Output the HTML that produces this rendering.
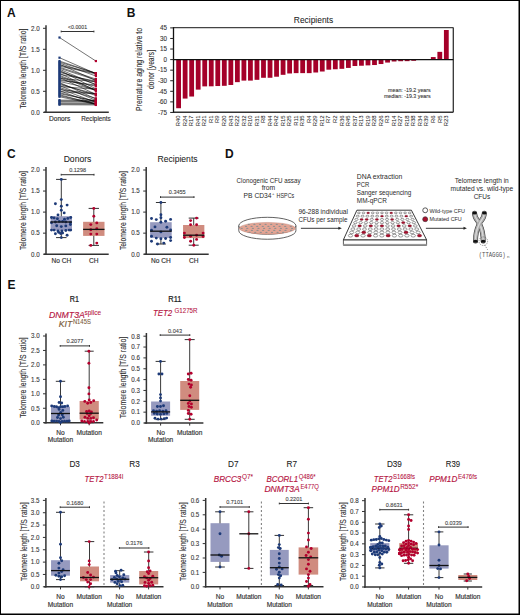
<!DOCTYPE html>
<html><head><meta charset="utf-8"><title>Figure</title>
<style>
html,body{margin:0;padding:0;background:#fff;}
body{width:520px;height:615px;overflow:hidden;}
svg{display:block;font-family:"Liberation Sans", sans-serif;}
</style></head><body>
<svg width="520" height="615" viewBox="0 0 520 615">
<rect x="0" y="0" width="520" height="615" fill="#fff"/>
<text x="7.00" y="16.80" font-size="12" fill="#111" text-anchor="start" font-weight="bold" >A</text>
<line x1="46.00" y1="25.20" x2="46.00" y2="113.00" stroke="#333" stroke-width="1.5" />
<line x1="43.00" y1="112.30" x2="46.00" y2="112.30" stroke="#333" stroke-width="1.0" />
<text x="39.60" y="114.60" font-size="7.4" fill="#333" text-anchor="end" textLength="8.64" lengthAdjust="spacingAndGlyphs" stroke="#444" stroke-width="0.12">0.0</text>
<line x1="43.00" y1="91.30" x2="46.00" y2="91.30" stroke="#333" stroke-width="1.0" />
<text x="39.60" y="93.60" font-size="7.4" fill="#333" text-anchor="end" textLength="8.64" lengthAdjust="spacingAndGlyphs" stroke="#444" stroke-width="0.12">0.5</text>
<line x1="43.00" y1="70.30" x2="46.00" y2="70.30" stroke="#333" stroke-width="1.0" />
<text x="39.60" y="72.60" font-size="7.4" fill="#333" text-anchor="end" textLength="8.64" lengthAdjust="spacingAndGlyphs" stroke="#444" stroke-width="0.12">1.0</text>
<line x1="43.00" y1="49.30" x2="46.00" y2="49.30" stroke="#333" stroke-width="1.0" />
<text x="39.60" y="51.60" font-size="7.4" fill="#333" text-anchor="end" textLength="8.64" lengthAdjust="spacingAndGlyphs" stroke="#444" stroke-width="0.12">1.5</text>
<line x1="43.00" y1="28.30" x2="46.00" y2="28.30" stroke="#333" stroke-width="1.0" />
<text x="39.60" y="30.60" font-size="7.4" fill="#333" text-anchor="end" textLength="8.64" lengthAdjust="spacingAndGlyphs" stroke="#444" stroke-width="0.12">2.0</text>
<text x="25.66" y="68.60" font-size="8.3" fill="#2e2e2e" text-anchor="middle" textLength="80.00" lengthAdjust="spacingAndGlyphs" transform="rotate(-90 25.66 68.60)" stroke="#2e2e2e" stroke-width="0.1">Telomere length [T/S ratio]</text>
<line x1="44.00" y1="112.30" x2="108.80" y2="112.30" stroke="#333" stroke-width="1.5" />
<text x="59.60" y="121.30" font-size="6.6" fill="#333" text-anchor="middle"  stroke="#333" stroke-width="0.16">Donors</text>
<text x="96.00" y="121.30" font-size="6.6" fill="#333" text-anchor="middle" textLength="29.60" lengthAdjust="spacingAndGlyphs"  stroke="#333" stroke-width="0.16">Recipients</text>
<line x1="61.20" y1="31.50" x2="93.90" y2="31.50" stroke="#333" stroke-width="1.0" />
<line x1="61.20" y1="30.60" x2="61.20" y2="32.40" stroke="#333" stroke-width="1.0" />
<line x1="93.90" y1="30.60" x2="93.90" y2="32.40" stroke="#333" stroke-width="1.0" />
<text x="77.55" y="28.90" font-size="4.8" fill="#444" text-anchor="middle" textLength="19.00" lengthAdjust="spacingAndGlyphs"  stroke="#444" stroke-width="0.1">&lt;0.0001</text>
<line x1="59.50" y1="37.54" x2="95.90" y2="61.06" stroke="#000" stroke-width="0.55" />
<line x1="59.50" y1="57.70" x2="95.90" y2="73.66" stroke="#000" stroke-width="0.55" />
<line x1="59.50" y1="61.06" x2="95.90" y2="73.24" stroke="#000" stroke-width="0.55" />
<line x1="59.50" y1="62.08" x2="95.90" y2="73.24" stroke="#000" stroke-width="0.55" />
<line x1="59.50" y1="63.10" x2="95.90" y2="76.01" stroke="#000" stroke-width="0.55" />
<line x1="59.50" y1="64.12" x2="95.90" y2="80.63" stroke="#000" stroke-width="0.55" />
<line x1="59.50" y1="65.14" x2="95.90" y2="73.26" stroke="#000" stroke-width="0.55" />
<line x1="59.50" y1="66.16" x2="95.90" y2="73.91" stroke="#000" stroke-width="0.55" />
<line x1="59.50" y1="67.18" x2="95.90" y2="79.00" stroke="#000" stroke-width="0.55" />
<line x1="59.50" y1="68.20" x2="95.90" y2="79.97" stroke="#000" stroke-width="0.55" />
<line x1="59.50" y1="69.22" x2="95.90" y2="84.68" stroke="#000" stroke-width="0.55" />
<line x1="59.50" y1="70.24" x2="95.90" y2="88.87" stroke="#000" stroke-width="0.55" />
<line x1="59.50" y1="71.26" x2="95.90" y2="84.49" stroke="#000" stroke-width="0.55" />
<line x1="59.50" y1="72.28" x2="95.90" y2="82.29" stroke="#000" stroke-width="0.55" />
<line x1="59.50" y1="73.30" x2="95.90" y2="90.53" stroke="#000" stroke-width="0.55" />
<line x1="59.50" y1="74.32" x2="95.90" y2="81.05" stroke="#000" stroke-width="0.55" />
<line x1="59.50" y1="75.34" x2="95.90" y2="89.94" stroke="#000" stroke-width="0.55" />
<line x1="59.50" y1="76.36" x2="95.90" y2="90.80" stroke="#000" stroke-width="0.55" />
<line x1="59.50" y1="77.38" x2="95.90" y2="94.38" stroke="#000" stroke-width="0.55" />
<line x1="59.50" y1="78.40" x2="95.90" y2="81.61" stroke="#000" stroke-width="0.55" />
<line x1="59.50" y1="79.42" x2="95.90" y2="86.17" stroke="#000" stroke-width="0.55" />
<line x1="59.50" y1="80.44" x2="95.90" y2="85.09" stroke="#000" stroke-width="0.55" />
<line x1="59.50" y1="81.46" x2="95.90" y2="89.66" stroke="#000" stroke-width="0.55" />
<line x1="59.50" y1="82.48" x2="95.90" y2="98.84" stroke="#000" stroke-width="0.55" />
<line x1="59.50" y1="83.50" x2="95.90" y2="95.49" stroke="#000" stroke-width="0.55" />
<line x1="59.50" y1="84.52" x2="95.90" y2="93.95" stroke="#000" stroke-width="0.55" />
<line x1="59.50" y1="85.54" x2="95.90" y2="100.27" stroke="#000" stroke-width="0.55" />
<line x1="59.50" y1="86.56" x2="95.90" y2="89.20" stroke="#000" stroke-width="0.55" />
<line x1="59.50" y1="87.58" x2="95.90" y2="98.40" stroke="#000" stroke-width="0.55" />
<line x1="59.50" y1="88.60" x2="95.90" y2="102.31" stroke="#000" stroke-width="0.55" />
<line x1="59.50" y1="89.62" x2="95.90" y2="93.72" stroke="#000" stroke-width="0.55" />
<line x1="59.50" y1="90.64" x2="95.90" y2="104.32" stroke="#000" stroke-width="0.55" />
<line x1="59.50" y1="91.66" x2="95.90" y2="93.87" stroke="#000" stroke-width="0.55" />
<line x1="59.50" y1="92.68" x2="95.90" y2="101.52" stroke="#000" stroke-width="0.55" />
<line x1="59.50" y1="93.70" x2="95.90" y2="100.98" stroke="#000" stroke-width="0.55" />
<line x1="59.50" y1="94.72" x2="95.90" y2="104.32" stroke="#000" stroke-width="0.55" />
<line x1="59.50" y1="95.74" x2="95.90" y2="103.67" stroke="#000" stroke-width="0.55" />
<line x1="59.50" y1="96.76" x2="95.90" y2="104.32" stroke="#000" stroke-width="0.55" />
<line x1="59.50" y1="100.12" x2="95.90" y2="100.33" stroke="#000" stroke-width="0.55" />
<line x1="59.50" y1="100.96" x2="95.90" y2="101.17" stroke="#000" stroke-width="0.55" />
<line x1="59.50" y1="101.80" x2="95.90" y2="102.01" stroke="#000" stroke-width="0.55" />
<line x1="59.50" y1="103.06" x2="95.90" y2="103.27" stroke="#000" stroke-width="0.55" />
<line x1="59.50" y1="103.90" x2="95.90" y2="104.11" stroke="#000" stroke-width="0.55" />
<line x1="59.50" y1="104.74" x2="95.90" y2="104.95" stroke="#000" stroke-width="0.55" />
<rect x="58.40" y="36.44" width="2.20" height="2.20" fill="#1d3a78" />
<rect x="58.40" y="56.60" width="2.20" height="2.20" fill="#1d3a78" />
<rect x="58.40" y="59.96" width="2.20" height="2.20" fill="#1d3a78" />
<rect x="58.40" y="60.98" width="2.20" height="2.20" fill="#1d3a78" />
<rect x="58.40" y="62.00" width="2.20" height="2.20" fill="#1d3a78" />
<rect x="58.40" y="63.02" width="2.20" height="2.20" fill="#1d3a78" />
<rect x="58.40" y="64.04" width="2.20" height="2.20" fill="#1d3a78" />
<rect x="58.40" y="65.06" width="2.20" height="2.20" fill="#1d3a78" />
<rect x="58.40" y="66.08" width="2.20" height="2.20" fill="#1d3a78" />
<rect x="58.40" y="67.10" width="2.20" height="2.20" fill="#1d3a78" />
<rect x="58.40" y="68.12" width="2.20" height="2.20" fill="#1d3a78" />
<rect x="58.40" y="69.14" width="2.20" height="2.20" fill="#1d3a78" />
<rect x="58.40" y="70.16" width="2.20" height="2.20" fill="#1d3a78" />
<rect x="58.40" y="71.18" width="2.20" height="2.20" fill="#1d3a78" />
<rect x="58.40" y="72.20" width="2.20" height="2.20" fill="#1d3a78" />
<rect x="58.40" y="73.22" width="2.20" height="2.20" fill="#1d3a78" />
<rect x="58.40" y="74.24" width="2.20" height="2.20" fill="#1d3a78" />
<rect x="58.40" y="75.26" width="2.20" height="2.20" fill="#1d3a78" />
<rect x="58.40" y="76.28" width="2.20" height="2.20" fill="#1d3a78" />
<rect x="58.40" y="77.30" width="2.20" height="2.20" fill="#1d3a78" />
<rect x="58.40" y="78.32" width="2.20" height="2.20" fill="#1d3a78" />
<rect x="58.40" y="79.34" width="2.20" height="2.20" fill="#1d3a78" />
<rect x="58.40" y="80.36" width="2.20" height="2.20" fill="#1d3a78" />
<rect x="58.40" y="81.38" width="2.20" height="2.20" fill="#1d3a78" />
<rect x="58.40" y="82.40" width="2.20" height="2.20" fill="#1d3a78" />
<rect x="58.40" y="83.42" width="2.20" height="2.20" fill="#1d3a78" />
<rect x="58.40" y="84.44" width="2.20" height="2.20" fill="#1d3a78" />
<rect x="58.40" y="85.46" width="2.20" height="2.20" fill="#1d3a78" />
<rect x="58.40" y="86.48" width="2.20" height="2.20" fill="#1d3a78" />
<rect x="58.40" y="87.50" width="2.20" height="2.20" fill="#1d3a78" />
<rect x="58.40" y="88.52" width="2.20" height="2.20" fill="#1d3a78" />
<rect x="58.40" y="89.54" width="2.20" height="2.20" fill="#1d3a78" />
<rect x="58.40" y="90.56" width="2.20" height="2.20" fill="#1d3a78" />
<rect x="58.40" y="91.58" width="2.20" height="2.20" fill="#1d3a78" />
<rect x="58.40" y="92.60" width="2.20" height="2.20" fill="#1d3a78" />
<rect x="58.40" y="93.62" width="2.20" height="2.20" fill="#1d3a78" />
<rect x="58.40" y="94.64" width="2.20" height="2.20" fill="#1d3a78" />
<rect x="58.40" y="95.66" width="2.20" height="2.20" fill="#1d3a78" />
<rect x="58.40" y="99.02" width="2.20" height="2.20" fill="#1d3a78" />
<rect x="58.40" y="99.86" width="2.20" height="2.20" fill="#1d3a78" />
<rect x="58.40" y="100.70" width="2.20" height="2.20" fill="#1d3a78" />
<rect x="58.40" y="101.96" width="2.20" height="2.20" fill="#1d3a78" />
<rect x="58.40" y="102.80" width="2.20" height="2.20" fill="#1d3a78" />
<rect x="58.40" y="103.64" width="2.20" height="2.20" fill="#1d3a78" />
<rect x="94.80" y="59.96" width="2.20" height="2.20" fill="#b3002d" />
<rect x="94.80" y="72.56" width="2.20" height="2.20" fill="#b3002d" />
<rect x="94.80" y="72.14" width="2.20" height="2.20" fill="#b3002d" />
<rect x="94.80" y="72.14" width="2.20" height="2.20" fill="#b3002d" />
<rect x="94.80" y="74.91" width="2.20" height="2.20" fill="#b3002d" />
<rect x="94.80" y="79.53" width="2.20" height="2.20" fill="#b3002d" />
<rect x="94.80" y="72.16" width="2.20" height="2.20" fill="#b3002d" />
<rect x="94.80" y="72.81" width="2.20" height="2.20" fill="#b3002d" />
<rect x="94.80" y="77.90" width="2.20" height="2.20" fill="#b3002d" />
<rect x="94.80" y="78.87" width="2.20" height="2.20" fill="#b3002d" />
<rect x="94.80" y="83.58" width="2.20" height="2.20" fill="#b3002d" />
<rect x="94.80" y="87.77" width="2.20" height="2.20" fill="#b3002d" />
<rect x="94.80" y="83.39" width="2.20" height="2.20" fill="#b3002d" />
<rect x="94.80" y="81.19" width="2.20" height="2.20" fill="#b3002d" />
<rect x="94.80" y="89.43" width="2.20" height="2.20" fill="#b3002d" />
<rect x="94.80" y="79.95" width="2.20" height="2.20" fill="#b3002d" />
<rect x="94.80" y="88.84" width="2.20" height="2.20" fill="#b3002d" />
<rect x="94.80" y="89.70" width="2.20" height="2.20" fill="#b3002d" />
<rect x="94.80" y="93.28" width="2.20" height="2.20" fill="#b3002d" />
<rect x="94.80" y="80.51" width="2.20" height="2.20" fill="#b3002d" />
<rect x="94.80" y="85.07" width="2.20" height="2.20" fill="#b3002d" />
<rect x="94.80" y="83.99" width="2.20" height="2.20" fill="#b3002d" />
<rect x="94.80" y="88.56" width="2.20" height="2.20" fill="#b3002d" />
<rect x="94.80" y="97.74" width="2.20" height="2.20" fill="#b3002d" />
<rect x="94.80" y="94.39" width="2.20" height="2.20" fill="#b3002d" />
<rect x="94.80" y="92.85" width="2.20" height="2.20" fill="#b3002d" />
<rect x="94.80" y="99.17" width="2.20" height="2.20" fill="#b3002d" />
<rect x="94.80" y="88.10" width="2.20" height="2.20" fill="#b3002d" />
<rect x="94.80" y="97.30" width="2.20" height="2.20" fill="#b3002d" />
<rect x="94.80" y="101.21" width="2.20" height="2.20" fill="#b3002d" />
<rect x="94.80" y="92.62" width="2.20" height="2.20" fill="#b3002d" />
<rect x="94.80" y="103.22" width="2.20" height="2.20" fill="#b3002d" />
<rect x="94.80" y="92.77" width="2.20" height="2.20" fill="#b3002d" />
<rect x="94.80" y="100.42" width="2.20" height="2.20" fill="#b3002d" />
<rect x="94.80" y="99.88" width="2.20" height="2.20" fill="#b3002d" />
<rect x="94.80" y="103.22" width="2.20" height="2.20" fill="#b3002d" />
<rect x="94.80" y="102.57" width="2.20" height="2.20" fill="#b3002d" />
<rect x="94.80" y="103.22" width="2.20" height="2.20" fill="#b3002d" />
<rect x="94.80" y="99.23" width="2.20" height="2.20" fill="#b3002d" />
<rect x="94.80" y="100.07" width="2.20" height="2.20" fill="#b3002d" />
<rect x="94.80" y="100.91" width="2.20" height="2.20" fill="#b3002d" />
<rect x="94.80" y="102.17" width="2.20" height="2.20" fill="#b3002d" />
<rect x="94.80" y="103.01" width="2.20" height="2.20" fill="#b3002d" />
<rect x="94.80" y="103.85" width="2.20" height="2.20" fill="#b3002d" />
<text x="126.70" y="16.90" font-size="12" fill="#111" text-anchor="start" font-weight="bold" >B</text>
<text x="313.50" y="22.70" font-size="8.6" fill="#222" text-anchor="middle" textLength="39.30" lengthAdjust="spacingAndGlyphs" stroke="#222" stroke-width="0.05">Recipients</text>
<rect x="176.20" y="59.60" width="4.80" height="48.62" fill="#a50029" />
<text x="180.30" y="115.50" font-size="6.2" fill="#2a2a2a" text-anchor="end" textLength="10.69" lengthAdjust="spacingAndGlyphs" transform="rotate(-90 180.30 115.50)" stroke="#2a2a2a" stroke-width="0.06">R40</text>
<rect x="182.73" y="59.60" width="4.80" height="38.97" fill="#a50029" />
<text x="186.83" y="115.50" font-size="6.2" fill="#2a2a2a" text-anchor="end" textLength="10.69" lengthAdjust="spacingAndGlyphs" transform="rotate(-90 186.83 115.50)" stroke="#2a2a2a" stroke-width="0.06">R24</text>
<rect x="189.26" y="59.60" width="4.80" height="36.93" fill="#a50029" />
<text x="193.36" y="115.50" font-size="6.2" fill="#2a2a2a" text-anchor="end" textLength="10.69" lengthAdjust="spacingAndGlyphs" transform="rotate(-90 193.36 115.50)" stroke="#2a2a2a" stroke-width="0.06">R17</text>
<rect x="195.79" y="59.60" width="4.80" height="30.02" fill="#a50029" />
<text x="199.89" y="115.50" font-size="6.2" fill="#2a2a2a" text-anchor="end" textLength="10.69" lengthAdjust="spacingAndGlyphs" transform="rotate(-90 199.89 115.50)" stroke="#2a2a2a" stroke-width="0.06">R41</text>
<rect x="202.32" y="59.60" width="4.80" height="26.78" fill="#a50029" />
<text x="206.42" y="115.50" font-size="6.2" fill="#2a2a2a" text-anchor="end" textLength="10.69" lengthAdjust="spacingAndGlyphs" transform="rotate(-90 206.42 115.50)" stroke="#2a2a2a" stroke-width="0.06">R21</text>
<rect x="208.85" y="59.60" width="4.80" height="26.71" fill="#a50029" />
<text x="212.95" y="115.50" font-size="6.2" fill="#2a2a2a" text-anchor="end" textLength="7.45" lengthAdjust="spacingAndGlyphs" transform="rotate(-90 212.95 115.50)" stroke="#2a2a2a" stroke-width="0.06">R1</text>
<rect x="215.38" y="59.60" width="4.80" height="26.43" fill="#a50029" />
<text x="219.48" y="115.50" font-size="6.2" fill="#2a2a2a" text-anchor="end" textLength="7.45" lengthAdjust="spacingAndGlyphs" transform="rotate(-90 219.48 115.50)" stroke="#2a2a2a" stroke-width="0.06">R9</text>
<rect x="221.91" y="59.60" width="4.80" height="26.21" fill="#a50029" />
<text x="226.01" y="115.50" font-size="6.2" fill="#2a2a2a" text-anchor="end" textLength="10.69" lengthAdjust="spacingAndGlyphs" transform="rotate(-90 226.01 115.50)" stroke="#2a2a2a" stroke-width="0.06">R20</text>
<rect x="228.44" y="59.60" width="4.80" height="25.37" fill="#a50029" />
<text x="232.54" y="115.50" font-size="6.2" fill="#2a2a2a" text-anchor="end" textLength="10.69" lengthAdjust="spacingAndGlyphs" transform="rotate(-90 232.54 115.50)" stroke="#2a2a2a" stroke-width="0.06">R43</text>
<rect x="234.97" y="59.60" width="4.80" height="22.55" fill="#a50029" />
<text x="239.07" y="115.50" font-size="6.2" fill="#2a2a2a" text-anchor="end" textLength="10.69" lengthAdjust="spacingAndGlyphs" transform="rotate(-90 239.07 115.50)" stroke="#2a2a2a" stroke-width="0.06">R22</text>
<rect x="241.50" y="59.60" width="4.80" height="21.00" fill="#a50029" />
<text x="245.60" y="115.50" font-size="6.2" fill="#2a2a2a" text-anchor="end" textLength="10.69" lengthAdjust="spacingAndGlyphs" transform="rotate(-90 245.60 115.50)" stroke="#2a2a2a" stroke-width="0.06">R32</text>
<rect x="248.03" y="59.60" width="4.80" height="21.00" fill="#a50029" />
<text x="252.13" y="115.50" font-size="6.2" fill="#2a2a2a" text-anchor="end" textLength="10.69" lengthAdjust="spacingAndGlyphs" transform="rotate(-90 252.13 115.50)" stroke="#2a2a2a" stroke-width="0.06">R10</text>
<rect x="254.56" y="59.60" width="4.80" height="20.22" fill="#a50029" />
<text x="258.66" y="115.50" font-size="6.2" fill="#2a2a2a" text-anchor="end" textLength="10.69" lengthAdjust="spacingAndGlyphs" transform="rotate(-90 258.66 115.50)" stroke="#2a2a2a" stroke-width="0.06">R31</text>
<rect x="261.09" y="59.60" width="4.80" height="18.18" fill="#a50029" />
<text x="265.19" y="115.50" font-size="6.2" fill="#2a2a2a" text-anchor="end" textLength="7.45" lengthAdjust="spacingAndGlyphs" transform="rotate(-90 265.19 115.50)" stroke="#2a2a2a" stroke-width="0.06">R8</text>
<rect x="267.62" y="59.60" width="4.80" height="18.18" fill="#a50029" />
<text x="271.72" y="115.50" font-size="6.2" fill="#2a2a2a" text-anchor="end" textLength="10.69" lengthAdjust="spacingAndGlyphs" transform="rotate(-90 271.72 115.50)" stroke="#2a2a2a" stroke-width="0.06">R44</text>
<rect x="274.15" y="59.60" width="4.80" height="17.12" fill="#a50029" />
<text x="278.25" y="115.50" font-size="6.2" fill="#2a2a2a" text-anchor="end" textLength="10.69" lengthAdjust="spacingAndGlyphs" transform="rotate(-90 278.25 115.50)" stroke="#2a2a2a" stroke-width="0.06">R42</text>
<rect x="280.68" y="59.60" width="4.80" height="15.22" fill="#a50029" />
<text x="284.78" y="115.50" font-size="6.2" fill="#2a2a2a" text-anchor="end" textLength="10.69" lengthAdjust="spacingAndGlyphs" transform="rotate(-90 284.78 115.50)" stroke="#2a2a2a" stroke-width="0.06">R15</text>
<rect x="287.21" y="59.60" width="4.80" height="13.88" fill="#a50029" />
<text x="291.31" y="115.50" font-size="6.2" fill="#2a2a2a" text-anchor="end" textLength="10.69" lengthAdjust="spacingAndGlyphs" transform="rotate(-90 291.31 115.50)" stroke="#2a2a2a" stroke-width="0.06">R25</text>
<rect x="293.74" y="59.60" width="4.80" height="13.53" fill="#a50029" />
<text x="297.84" y="115.50" font-size="6.2" fill="#2a2a2a" text-anchor="end" textLength="10.26" lengthAdjust="spacingAndGlyphs" transform="rotate(-90 297.84 115.50)" stroke="#2a2a2a" stroke-width="0.06">R11</text>
<rect x="300.27" y="59.60" width="4.80" height="13.53" fill="#a50029" />
<text x="304.37" y="115.50" font-size="6.2" fill="#2a2a2a" text-anchor="end" textLength="10.69" lengthAdjust="spacingAndGlyphs" transform="rotate(-90 304.37 115.50)" stroke="#2a2a2a" stroke-width="0.06">R35</text>
<rect x="306.80" y="59.60" width="4.80" height="13.53" fill="#a50029" />
<text x="310.90" y="115.50" font-size="6.2" fill="#2a2a2a" text-anchor="end" textLength="7.45" lengthAdjust="spacingAndGlyphs" transform="rotate(-90 310.90 115.50)" stroke="#2a2a2a" stroke-width="0.06">R4</text>
<rect x="313.33" y="59.60" width="4.80" height="12.90" fill="#a50029" />
<text x="317.43" y="115.50" font-size="6.2" fill="#2a2a2a" text-anchor="end" textLength="10.69" lengthAdjust="spacingAndGlyphs" transform="rotate(-90 317.43 115.50)" stroke="#2a2a2a" stroke-width="0.06">R29</text>
<rect x="319.86" y="59.60" width="4.80" height="11.91" fill="#a50029" />
<text x="323.96" y="115.50" font-size="6.2" fill="#2a2a2a" text-anchor="end" textLength="10.69" lengthAdjust="spacingAndGlyphs" transform="rotate(-90 323.96 115.50)" stroke="#2a2a2a" stroke-width="0.06">R12</text>
<rect x="326.39" y="59.60" width="4.80" height="10.08" fill="#a50029" />
<text x="330.49" y="115.50" font-size="6.2" fill="#2a2a2a" text-anchor="end" textLength="7.45" lengthAdjust="spacingAndGlyphs" transform="rotate(-90 330.49 115.50)" stroke="#2a2a2a" stroke-width="0.06">R7</text>
<rect x="332.92" y="59.60" width="4.80" height="9.65" fill="#a50029" />
<text x="337.02" y="115.50" font-size="6.2" fill="#2a2a2a" text-anchor="end" textLength="7.45" lengthAdjust="spacingAndGlyphs" transform="rotate(-90 337.02 115.50)" stroke="#2a2a2a" stroke-width="0.06">R2</text>
<rect x="339.45" y="59.60" width="4.80" height="9.23" fill="#a50029" />
<text x="343.55" y="115.50" font-size="6.2" fill="#2a2a2a" text-anchor="end" textLength="10.69" lengthAdjust="spacingAndGlyphs" transform="rotate(-90 343.55 115.50)" stroke="#2a2a2a" stroke-width="0.06">R36</text>
<rect x="345.98" y="59.60" width="4.80" height="8.32" fill="#a50029" />
<text x="350.08" y="115.50" font-size="6.2" fill="#2a2a2a" text-anchor="end" textLength="10.69" lengthAdjust="spacingAndGlyphs" transform="rotate(-90 350.08 115.50)" stroke="#2a2a2a" stroke-width="0.06">R45</text>
<rect x="352.51" y="59.60" width="4.80" height="6.41" fill="#a50029" />
<text x="356.61" y="115.50" font-size="6.2" fill="#2a2a2a" text-anchor="end" textLength="10.69" lengthAdjust="spacingAndGlyphs" transform="rotate(-90 356.61 115.50)" stroke="#2a2a2a" stroke-width="0.06">R37</text>
<rect x="359.04" y="59.60" width="4.80" height="6.13" fill="#a50029" />
<text x="363.14" y="115.50" font-size="6.2" fill="#2a2a2a" text-anchor="end" textLength="10.69" lengthAdjust="spacingAndGlyphs" transform="rotate(-90 363.14 115.50)" stroke="#2a2a2a" stroke-width="0.06">R13</text>
<rect x="365.57" y="59.60" width="4.80" height="5.78" fill="#a50029" />
<text x="369.67" y="115.50" font-size="6.2" fill="#2a2a2a" text-anchor="end" textLength="10.69" lengthAdjust="spacingAndGlyphs" transform="rotate(-90 369.67 115.50)" stroke="#2a2a2a" stroke-width="0.06">R19</text>
<rect x="372.10" y="59.60" width="4.80" height="5.43" fill="#a50029" />
<text x="376.20" y="115.50" font-size="6.2" fill="#2a2a2a" text-anchor="end" textLength="10.69" lengthAdjust="spacingAndGlyphs" transform="rotate(-90 376.20 115.50)" stroke="#2a2a2a" stroke-width="0.06">R28</text>
<rect x="378.63" y="59.60" width="4.80" height="4.44" fill="#a50029" />
<text x="382.73" y="115.50" font-size="6.2" fill="#2a2a2a" text-anchor="end" textLength="10.69" lengthAdjust="spacingAndGlyphs" transform="rotate(-90 382.73 115.50)" stroke="#2a2a2a" stroke-width="0.06">R26</text>
<rect x="385.16" y="59.60" width="4.80" height="2.96" fill="#a50029" />
<text x="389.26" y="115.50" font-size="6.2" fill="#2a2a2a" text-anchor="end" textLength="7.45" lengthAdjust="spacingAndGlyphs" transform="rotate(-90 389.26 115.50)" stroke="#2a2a2a" stroke-width="0.06">R3</text>
<rect x="391.69" y="59.60" width="4.80" height="1.90" fill="#a50029" />
<text x="395.79" y="115.50" font-size="6.2" fill="#2a2a2a" text-anchor="end" textLength="10.69" lengthAdjust="spacingAndGlyphs" transform="rotate(-90 395.79 115.50)" stroke="#2a2a2a" stroke-width="0.06">R14</text>
<rect x="398.22" y="59.60" width="4.80" height="1.62" fill="#a50029" />
<text x="402.32" y="115.50" font-size="6.2" fill="#2a2a2a" text-anchor="end" textLength="10.69" lengthAdjust="spacingAndGlyphs" transform="rotate(-90 402.32 115.50)" stroke="#2a2a2a" stroke-width="0.06">R27</text>
<rect x="404.75" y="59.60" width="4.80" height="1.55" fill="#a50029" />
<text x="408.85" y="115.50" font-size="6.2" fill="#2a2a2a" text-anchor="end" textLength="10.69" lengthAdjust="spacingAndGlyphs" transform="rotate(-90 408.85 115.50)" stroke="#2a2a2a" stroke-width="0.06">R18</text>
<rect x="411.28" y="59.60" width="4.80" height="1.20" fill="#a50029" />
<text x="415.38" y="115.50" font-size="6.2" fill="#2a2a2a" text-anchor="end" textLength="10.69" lengthAdjust="spacingAndGlyphs" transform="rotate(-90 415.38 115.50)" stroke="#2a2a2a" stroke-width="0.06">R38</text>
<rect x="417.81" y="59.60" width="4.80" height="0.14" fill="#a50029" />
<text x="421.91" y="115.50" font-size="6.2" fill="#2a2a2a" text-anchor="end" textLength="10.69" lengthAdjust="spacingAndGlyphs" transform="rotate(-90 421.91 115.50)" stroke="#2a2a2a" stroke-width="0.06">R34</text>
<text x="428.44" y="115.50" font-size="6.2" fill="#2a2a2a" text-anchor="end" textLength="10.69" lengthAdjust="spacingAndGlyphs" transform="rotate(-90 428.44 115.50)" stroke="#2a2a2a" stroke-width="0.06">R39</text>
<rect x="430.87" y="57.06" width="4.80" height="2.54" fill="#a50029" />
<text x="434.97" y="115.50" font-size="6.2" fill="#2a2a2a" text-anchor="end" textLength="7.45" lengthAdjust="spacingAndGlyphs" transform="rotate(-90 434.97 115.50)" stroke="#2a2a2a" stroke-width="0.06">R6</text>
<rect x="437.40" y="51.85" width="4.80" height="7.75" fill="#a50029" />
<text x="441.50" y="115.50" font-size="6.2" fill="#2a2a2a" text-anchor="end" textLength="7.45" lengthAdjust="spacingAndGlyphs" transform="rotate(-90 441.50 115.50)" stroke="#2a2a2a" stroke-width="0.06">R5</text>
<rect x="443.93" y="30.00" width="4.80" height="29.60" fill="#a50029" />
<text x="448.03" y="115.50" font-size="6.2" fill="#2a2a2a" text-anchor="end" textLength="10.69" lengthAdjust="spacingAndGlyphs" transform="rotate(-90 448.03 115.50)" stroke="#2a2a2a" stroke-width="0.06">R23</text>
<line x1="173.50" y1="27.60" x2="453.30" y2="27.60" stroke="#444" stroke-width="1.1" />
<line x1="453.30" y1="27.60" x2="453.30" y2="112.20" stroke="#333" stroke-width="1.3" />
<line x1="173.50" y1="112.20" x2="453.30" y2="112.20" stroke="#333" stroke-width="1.4" />
<line x1="173.50" y1="27.10" x2="173.50" y2="112.90" stroke="#111" stroke-width="1.3" />
<line x1="173.50" y1="59.60" x2="453.30" y2="59.60" stroke="#111" stroke-width="1.1" />
<line x1="170.20" y1="27.89" x2="173.50" y2="27.89" stroke="#222" stroke-width="1.0" />
<text x="167.10" y="30.19" font-size="6.9" fill="#333" text-anchor="end" textLength="6.98" lengthAdjust="spacingAndGlyphs" stroke="#444" stroke-width="0.12">45</text>
<line x1="170.20" y1="38.46" x2="173.50" y2="38.46" stroke="#222" stroke-width="1.0" />
<text x="167.10" y="40.76" font-size="6.9" fill="#333" text-anchor="end" textLength="6.98" lengthAdjust="spacingAndGlyphs" stroke="#444" stroke-width="0.12">30</text>
<line x1="170.20" y1="49.03" x2="173.50" y2="49.03" stroke="#222" stroke-width="1.0" />
<text x="167.10" y="51.33" font-size="6.9" fill="#333" text-anchor="end" textLength="6.98" lengthAdjust="spacingAndGlyphs" stroke="#444" stroke-width="0.12">15</text>
<line x1="170.20" y1="59.60" x2="173.50" y2="59.60" stroke="#222" stroke-width="1.0" />
<text x="167.10" y="61.90" font-size="6.9" fill="#333" text-anchor="end" textLength="3.49" lengthAdjust="spacingAndGlyphs" stroke="#444" stroke-width="0.12">0</text>
<line x1="170.20" y1="70.17" x2="173.50" y2="70.17" stroke="#222" stroke-width="1.0" />
<text x="167.10" y="72.47" font-size="6.9" fill="#333" text-anchor="end" textLength="9.08" lengthAdjust="spacingAndGlyphs" stroke="#444" stroke-width="0.12">-15</text>
<line x1="170.20" y1="80.74" x2="173.50" y2="80.74" stroke="#222" stroke-width="1.0" />
<text x="167.10" y="83.04" font-size="6.9" fill="#333" text-anchor="end" textLength="9.08" lengthAdjust="spacingAndGlyphs" stroke="#444" stroke-width="0.12">-30</text>
<line x1="170.20" y1="91.31" x2="173.50" y2="91.31" stroke="#222" stroke-width="1.0" />
<text x="167.10" y="93.61" font-size="6.9" fill="#333" text-anchor="end" textLength="9.08" lengthAdjust="spacingAndGlyphs" stroke="#444" stroke-width="0.12">-45</text>
<line x1="170.20" y1="101.88" x2="173.50" y2="101.88" stroke="#222" stroke-width="1.0" />
<text x="167.10" y="104.18" font-size="6.9" fill="#333" text-anchor="end" textLength="9.08" lengthAdjust="spacingAndGlyphs" stroke="#444" stroke-width="0.12">-60</text>
<line x1="170.20" y1="112.45" x2="173.50" y2="112.45" stroke="#222" stroke-width="1.0" />
<text x="167.10" y="114.75" font-size="6.9" fill="#333" text-anchor="end" textLength="9.08" lengthAdjust="spacingAndGlyphs" stroke="#444" stroke-width="0.12">-75</text>
<text x="141.86" y="69.50" font-size="8.3" fill="#2e2e2e" text-anchor="middle" textLength="83.00" lengthAdjust="spacingAndGlyphs" transform="rotate(-90 141.86 69.50)" stroke="#2e2e2e" stroke-width="0.1">Premature aging relative to</text>
<text x="153.86" y="69.50" font-size="8.3" fill="#2e2e2e" text-anchor="middle" textLength="39.00" lengthAdjust="spacingAndGlyphs" transform="rotate(-90 153.86 69.50)" stroke="#2e2e2e" stroke-width="0.1">donor [years]</text>
<text x="430.70" y="91.60" font-size="6.0" fill="#333" text-anchor="end" textLength="42.60" lengthAdjust="spacingAndGlyphs"  stroke="#333" stroke-width="0.1">mean: -19.2 years</text>
<text x="430.70" y="97.70" font-size="6.0" fill="#333" text-anchor="end" textLength="46.80" lengthAdjust="spacingAndGlyphs"  stroke="#333" stroke-width="0.1">median: -19.3 years</text>
<text x="7.00" y="158.20" font-size="12" fill="#111" text-anchor="start" font-weight="bold" >C</text>
<text x="225.00" y="158.20" font-size="12" fill="#111" text-anchor="start" font-weight="bold" >D</text>
<text x="77.50" y="162.20" font-size="8.6" fill="#222" text-anchor="middle" stroke="#222" stroke-width="0.05">Donors</text>
<text x="177.50" y="162.20" font-size="8.6" fill="#222" text-anchor="middle" stroke="#222" stroke-width="0.05">Recipients</text>
<line x1="46.00" y1="167.10" x2="46.00" y2="254.90" stroke="#333" stroke-width="1.5" />
<line x1="43.00" y1="254.20" x2="46.00" y2="254.20" stroke="#333" stroke-width="1.0" />
<text x="39.60" y="256.50" font-size="7.4" fill="#333" text-anchor="end" textLength="8.64" lengthAdjust="spacingAndGlyphs" stroke="#444" stroke-width="0.12">0.0</text>
<line x1="43.00" y1="233.15" x2="46.00" y2="233.15" stroke="#333" stroke-width="1.0" />
<text x="39.60" y="235.45" font-size="7.4" fill="#333" text-anchor="end" textLength="8.64" lengthAdjust="spacingAndGlyphs" stroke="#444" stroke-width="0.12">0.5</text>
<line x1="43.00" y1="212.10" x2="46.00" y2="212.10" stroke="#333" stroke-width="1.0" />
<text x="39.60" y="214.40" font-size="7.4" fill="#333" text-anchor="end" textLength="8.64" lengthAdjust="spacingAndGlyphs" stroke="#444" stroke-width="0.12">1.0</text>
<line x1="43.00" y1="191.05" x2="46.00" y2="191.05" stroke="#333" stroke-width="1.0" />
<text x="39.60" y="193.35" font-size="7.4" fill="#333" text-anchor="end" textLength="8.64" lengthAdjust="spacingAndGlyphs" stroke="#444" stroke-width="0.12">1.5</text>
<line x1="43.00" y1="170.00" x2="46.00" y2="170.00" stroke="#333" stroke-width="1.0" />
<text x="39.60" y="172.30" font-size="7.4" fill="#333" text-anchor="end" textLength="8.64" lengthAdjust="spacingAndGlyphs" stroke="#444" stroke-width="0.12">2.0</text>
<line x1="146.20" y1="167.10" x2="146.20" y2="254.90" stroke="#333" stroke-width="1.5" />
<line x1="143.20" y1="254.20" x2="146.20" y2="254.20" stroke="#333" stroke-width="1.0" />
<text x="139.80" y="256.50" font-size="7.4" fill="#333" text-anchor="end" textLength="8.64" lengthAdjust="spacingAndGlyphs" stroke="#444" stroke-width="0.12">0.0</text>
<line x1="143.20" y1="233.15" x2="146.20" y2="233.15" stroke="#333" stroke-width="1.0" />
<text x="139.80" y="235.45" font-size="7.4" fill="#333" text-anchor="end" textLength="8.64" lengthAdjust="spacingAndGlyphs" stroke="#444" stroke-width="0.12">0.5</text>
<line x1="143.20" y1="212.10" x2="146.20" y2="212.10" stroke="#333" stroke-width="1.0" />
<text x="139.80" y="214.40" font-size="7.4" fill="#333" text-anchor="end" textLength="8.64" lengthAdjust="spacingAndGlyphs" stroke="#444" stroke-width="0.12">1.0</text>
<line x1="143.20" y1="191.05" x2="146.20" y2="191.05" stroke="#333" stroke-width="1.0" />
<text x="139.80" y="193.35" font-size="7.4" fill="#333" text-anchor="end" textLength="8.64" lengthAdjust="spacingAndGlyphs" stroke="#444" stroke-width="0.12">1.5</text>
<line x1="143.20" y1="170.00" x2="146.20" y2="170.00" stroke="#333" stroke-width="1.0" />
<text x="139.80" y="172.30" font-size="7.4" fill="#333" text-anchor="end" textLength="8.64" lengthAdjust="spacingAndGlyphs" stroke="#444" stroke-width="0.12">2.0</text>
<text x="25.76" y="210.50" font-size="8.3" fill="#2e2e2e" text-anchor="middle" textLength="79.00" lengthAdjust="spacingAndGlyphs" transform="rotate(-90 25.76 210.50)" stroke="#2e2e2e" stroke-width="0.1">Telomere length [T/S ratio]</text>
<text x="125.66" y="210.50" font-size="8.3" fill="#2e2e2e" text-anchor="middle" textLength="79.00" lengthAdjust="spacingAndGlyphs" transform="rotate(-90 125.66 210.50)" stroke="#2e2e2e" stroke-width="0.1">Telomere length [T/S ratio]</text>
<line x1="44.00" y1="254.20" x2="108.70" y2="254.20" stroke="#333" stroke-width="1.4" />
<line x1="144.20" y1="254.20" x2="208.70" y2="254.20" stroke="#333" stroke-width="1.4" />
<text x="61.30" y="263.20" font-size="6.6" fill="#333" text-anchor="middle"  stroke="#333" stroke-width="0.16">No CH</text>
<text x="93.80" y="263.20" font-size="6.6" fill="#333" text-anchor="middle"  stroke="#333" stroke-width="0.16">CH</text>
<text x="160.90" y="263.20" font-size="6.6" fill="#333" text-anchor="middle"  stroke="#333" stroke-width="0.16">No CH</text>
<text x="193.70" y="263.20" font-size="6.6" fill="#333" text-anchor="middle"  stroke="#333" stroke-width="0.16">CH</text>
<line x1="61.20" y1="174.70" x2="94.00" y2="174.70" stroke="#333" stroke-width="1.0" />
<line x1="61.20" y1="173.80" x2="61.20" y2="175.60" stroke="#333" stroke-width="1.0" />
<line x1="94.00" y1="173.80" x2="94.00" y2="175.60" stroke="#333" stroke-width="1.0" />
<text x="77.60" y="171.90" font-size="5.7" fill="#444" text-anchor="middle" textLength="16.90" lengthAdjust="spacingAndGlyphs"  stroke="#444" stroke-width="0.1">0.1298</text>
<line x1="160.50" y1="197.10" x2="194.00" y2="197.10" stroke="#333" stroke-width="1.0" />
<line x1="160.50" y1="196.20" x2="160.50" y2="198.00" stroke="#333" stroke-width="1.0" />
<line x1="194.00" y1="196.20" x2="194.00" y2="198.00" stroke="#333" stroke-width="1.0" />
<text x="177.25" y="194.30" font-size="5.7" fill="#444" text-anchor="middle" textLength="16.90" lengthAdjust="spacingAndGlyphs"  stroke="#444" stroke-width="0.1">0.3455</text>
<line x1="61.30" y1="179.40" x2="61.30" y2="237.60" stroke="#3a3a3a" stroke-width="1.0" />
<rect x="50.60" y="216.20" width="21.40" height="14.30" fill="#969abf" />
<line x1="56.05" y1="179.40" x2="66.55" y2="179.40" stroke="#333" stroke-width="1.0" />
<line x1="56.05" y1="237.60" x2="66.55" y2="237.60" stroke="#333" stroke-width="1.0" />
<circle cx="61.30" cy="179.40" r="1.45" fill="#1d3a78" />
<circle cx="61.30" cy="199.60" r="1.45" fill="#1d3a78" />
<circle cx="55.40" cy="203.80" r="1.45" fill="#1d3a78" />
<circle cx="67.10" cy="205.10" r="1.45" fill="#1d3a78" />
<circle cx="61.30" cy="206.20" r="1.45" fill="#1d3a78" />
<circle cx="61.30" cy="210.30" r="1.45" fill="#1d3a78" />
<circle cx="64.20" cy="212.90" r="1.45" fill="#1d3a78" />
<circle cx="58.00" cy="214.90" r="1.45" fill="#1d3a78" />
<circle cx="51.50" cy="217.50" r="1.45" fill="#1d3a78" />
<circle cx="54.10" cy="217.90" r="1.45" fill="#1d3a78" />
<circle cx="57.40" cy="218.80" r="1.45" fill="#1d3a78" />
<circle cx="64.50" cy="219.20" r="1.45" fill="#1d3a78" />
<circle cx="67.80" cy="218.40" r="1.45" fill="#1d3a78" />
<circle cx="70.70" cy="217.50" r="1.45" fill="#1d3a78" />
<circle cx="51.50" cy="222.70" r="1.45" fill="#1d3a78" />
<circle cx="55.40" cy="222.00" r="1.45" fill="#1d3a78" />
<circle cx="59.30" cy="221.40" r="1.45" fill="#1d3a78" />
<circle cx="62.60" cy="221.40" r="1.45" fill="#1d3a78" />
<circle cx="65.80" cy="222.00" r="1.45" fill="#1d3a78" />
<circle cx="70.40" cy="222.70" r="1.45" fill="#1d3a78" />
<circle cx="56.70" cy="225.70" r="1.45" fill="#1d3a78" />
<circle cx="61.30" cy="226.60" r="1.45" fill="#1d3a78" />
<circle cx="65.80" cy="225.90" r="1.45" fill="#1d3a78" />
<circle cx="70.40" cy="224.60" r="1.45" fill="#1d3a78" />
<circle cx="51.50" cy="230.10" r="1.45" fill="#1d3a78" />
<circle cx="54.10" cy="230.10" r="1.45" fill="#1d3a78" />
<circle cx="58.00" cy="230.90" r="1.45" fill="#1d3a78" />
<circle cx="61.90" cy="230.90" r="1.45" fill="#1d3a78" />
<circle cx="65.80" cy="230.50" r="1.45" fill="#1d3a78" />
<circle cx="69.10" cy="230.10" r="1.45" fill="#1d3a78" />
<circle cx="70.70" cy="230.10" r="1.45" fill="#1d3a78" />
<circle cx="55.40" cy="233.70" r="1.45" fill="#1d3a78" />
<circle cx="58.70" cy="232.40" r="1.45" fill="#1d3a78" />
<circle cx="60.60" cy="233.50" r="1.45" fill="#1d3a78" />
<circle cx="62.60" cy="233.10" r="1.45" fill="#1d3a78" />
<circle cx="67.10" cy="235.30" r="1.45" fill="#1d3a78" />
<circle cx="61.30" cy="237.60" r="1.45" fill="#1d3a78" />
<line x1="50.60" y1="222.00" x2="72.00" y2="222.00" stroke="#111" stroke-width="1.3" />
<line x1="93.80" y1="208.40" x2="93.80" y2="245.40" stroke="#3a3a3a" stroke-width="1.0" />
<rect x="83.10" y="221.80" width="21.40" height="14.10" fill="#d08c7f" />
<line x1="88.60" y1="208.40" x2="99.00" y2="208.40" stroke="#333" stroke-width="1.0" />
<line x1="88.60" y1="245.40" x2="99.00" y2="245.40" stroke="#333" stroke-width="1.0" />
<circle cx="93.80" cy="208.40" r="1.45" fill="#b3002d" />
<circle cx="93.80" cy="216.20" r="1.45" fill="#b3002d" />
<circle cx="90.80" cy="224.60" r="1.45" fill="#b3002d" />
<circle cx="96.80" cy="222.90" r="1.45" fill="#b3002d" />
<circle cx="90.80" cy="229.80" r="1.45" fill="#b3002d" />
<circle cx="96.80" cy="228.80" r="1.45" fill="#b3002d" />
<circle cx="90.80" cy="234.10" r="1.45" fill="#b3002d" />
<circle cx="96.80" cy="234.10" r="1.45" fill="#b3002d" />
<circle cx="96.80" cy="243.10" r="1.45" fill="#b3002d" />
<circle cx="90.80" cy="245.40" r="1.45" fill="#b3002d" />
<line x1="83.10" y1="229.40" x2="104.50" y2="229.40" stroke="#111" stroke-width="1.3" />
<line x1="160.90" y1="202.50" x2="160.90" y2="244.00" stroke="#3a3a3a" stroke-width="1.0" />
<rect x="150.10" y="222.20" width="21.60" height="15.70" fill="#969abf" />
<line x1="155.90" y1="202.50" x2="165.90" y2="202.50" stroke="#333" stroke-width="1.0" />
<line x1="155.90" y1="244.00" x2="165.90" y2="244.00" stroke="#333" stroke-width="1.0" />
<circle cx="160.90" cy="202.50" r="1.45" fill="#1d3a78" />
<circle cx="160.90" cy="214.80" r="1.45" fill="#1d3a78" />
<circle cx="160.90" cy="217.80" r="1.45" fill="#1d3a78" />
<circle cx="151.50" cy="218.50" r="1.45" fill="#1d3a78" />
<circle cx="156.30" cy="219.60" r="1.45" fill="#1d3a78" />
<circle cx="165.60" cy="221.30" r="1.45" fill="#1d3a78" />
<circle cx="170.60" cy="219.40" r="1.45" fill="#1d3a78" />
<circle cx="160.90" cy="222.30" r="1.45" fill="#1d3a78" />
<circle cx="155.00" cy="226.90" r="1.45" fill="#1d3a78" />
<circle cx="166.90" cy="227.30" r="1.45" fill="#1d3a78" />
<circle cx="151.50" cy="230.30" r="1.45" fill="#1d3a78" />
<circle cx="170.60" cy="230.00" r="1.45" fill="#1d3a78" />
<circle cx="160.90" cy="231.90" r="1.45" fill="#1d3a78" />
<circle cx="151.50" cy="236.30" r="1.45" fill="#1d3a78" />
<circle cx="156.30" cy="238.10" r="1.45" fill="#1d3a78" />
<circle cx="160.90" cy="238.80" r="1.45" fill="#1d3a78" />
<circle cx="165.60" cy="238.50" r="1.45" fill="#1d3a78" />
<circle cx="170.60" cy="237.50" r="1.45" fill="#1d3a78" />
<circle cx="151.50" cy="241.30" r="1.45" fill="#1d3a78" />
<circle cx="170.60" cy="240.60" r="1.45" fill="#1d3a78" />
<circle cx="157.50" cy="244.00" r="1.45" fill="#1d3a78" />
<circle cx="163.80" cy="243.10" r="1.45" fill="#1d3a78" />
<line x1="150.10" y1="231.20" x2="171.70" y2="231.20" stroke="#111" stroke-width="1.3" />
<line x1="193.70" y1="218.10" x2="193.70" y2="245.20" stroke="#3a3a3a" stroke-width="1.0" />
<rect x="183.05" y="225.00" width="21.30" height="13.10" fill="#d08c7f" />
<line x1="188.70" y1="218.10" x2="198.70" y2="218.10" stroke="#333" stroke-width="1.0" />
<line x1="188.70" y1="245.20" x2="198.70" y2="245.20" stroke="#333" stroke-width="1.0" />
<circle cx="196.60" cy="218.10" r="1.45" fill="#b3002d" />
<circle cx="190.60" cy="220.60" r="1.45" fill="#b3002d" />
<circle cx="190.60" cy="224.80" r="1.45" fill="#b3002d" />
<circle cx="196.60" cy="224.80" r="1.45" fill="#b3002d" />
<circle cx="184.40" cy="233.10" r="1.45" fill="#b3002d" />
<circle cx="203.10" cy="233.10" r="1.45" fill="#b3002d" />
<circle cx="184.40" cy="237.50" r="1.45" fill="#b3002d" />
<circle cx="190.60" cy="236.30" r="1.45" fill="#b3002d" />
<circle cx="196.60" cy="235.30" r="1.45" fill="#b3002d" />
<circle cx="203.10" cy="236.50" r="1.45" fill="#b3002d" />
<circle cx="190.60" cy="241.30" r="1.45" fill="#b3002d" />
<circle cx="196.60" cy="239.40" r="1.45" fill="#b3002d" />
<circle cx="193.80" cy="245.30" r="1.45" fill="#b3002d" />
<line x1="183.05" y1="235.20" x2="204.35" y2="235.20" stroke="#111" stroke-width="1.3" />
<text x="268.60" y="183.30" font-size="7.0" fill="#2a2a2a" text-anchor="middle" textLength="64.00" lengthAdjust="spacingAndGlyphs" stroke="none">Clonogenic CFU assay</text>
<text x="268.40" y="190.30" font-size="7.0" fill="#2a2a2a" text-anchor="middle" textLength="13.50" lengthAdjust="spacingAndGlyphs" stroke="none">from</text>
<text x="243.60" y="198.00" font-size="7.0" fill="#2a2a2a" text-anchor="start" textLength="28.00" lengthAdjust="spacingAndGlyphs" stroke="none">PB CD34</text>
<text x="271.90" y="195.00" font-size="4.2" fill="#2a2a2a" text-anchor="start" stroke="none">+</text>
<text x="276.60" y="198.00" font-size="7.0" fill="#2a2a2a" text-anchor="start" textLength="17.60" lengthAdjust="spacingAndGlyphs" stroke="none">HSPCs</text>
<text x="298.40" y="213.80" font-size="7.0" fill="#2a2a2a" text-anchor="start" textLength="49.50" lengthAdjust="spacingAndGlyphs" stroke="none">96-288 individual</text>
<text x="298.40" y="222.10" font-size="7.0" fill="#2a2a2a" text-anchor="start" textLength="49.00" lengthAdjust="spacingAndGlyphs" stroke="none">CFUs per sample</text>
<text x="356.80" y="179.00" font-size="7.0" fill="#2a2a2a" text-anchor="start" textLength="45.50" lengthAdjust="spacingAndGlyphs" stroke="none">DNA extraction</text>
<text x="356.80" y="187.10" font-size="7.0" fill="#2a2a2a" text-anchor="start" textLength="12.50" lengthAdjust="spacingAndGlyphs" stroke="none">PCR</text>
<text x="356.80" y="195.00" font-size="7.0" fill="#2a2a2a" text-anchor="start" textLength="54.50" lengthAdjust="spacingAndGlyphs" stroke="none">Sanger sequencing</text>
<text x="356.80" y="202.60" font-size="7.0" fill="#2a2a2a" text-anchor="start" textLength="30.00" lengthAdjust="spacingAndGlyphs" stroke="none">MM-qPCR</text>
<text x="481.80" y="183.20" font-size="7.0" fill="#2a2a2a" text-anchor="middle" textLength="54.00" lengthAdjust="spacingAndGlyphs" stroke="none">Telomere length in</text>
<text x="481.90" y="191.00" font-size="7.0" fill="#2a2a2a" text-anchor="middle" textLength="62.60" lengthAdjust="spacingAndGlyphs" stroke="none">mutated vs. wild-type</text>
<text x="481.90" y="198.50" font-size="7.0" fill="#2a2a2a" text-anchor="middle" textLength="16.50" lengthAdjust="spacingAndGlyphs" stroke="none">CFUs</text>
<circle cx="425.2" cy="210.3" r="2.45" fill="#fff" stroke="#333" stroke-width="0.8"/>
<circle cx="425.2" cy="219.2" r="2.5" fill="#a8102e" stroke="#333" stroke-width="0.6"/>
<text x="429.50" y="212.50" font-size="6.0" fill="#2a2a2a" text-anchor="start" textLength="35.50" lengthAdjust="spacingAndGlyphs" stroke="none">Wild-type CFU</text>
<text x="429.50" y="221.40" font-size="6.0" fill="#2a2a2a" text-anchor="start" textLength="32.30" lengthAdjust="spacingAndGlyphs" stroke="none">Mutated CFU</text>
<line x1="300.90" y1="228.30" x2="339.30" y2="228.30" stroke="#222" stroke-width="0.9" />
<path d="M341.8,228.3 L338.4,226.8 L338.4,229.8 Z" fill="#222"/>
<line x1="425.90" y1="228.30" x2="464.40" y2="228.30" stroke="#222" stroke-width="0.9" />
<path d="M466.9,228.3 L463.5,226.8 L463.5,229.8 Z" fill="#222"/>
<path d="M238.8,225.75 L238.8,230.75 A28.55,8.5 0 0 0 295.9,230.75 L295.9,225.75" fill="#fff" stroke="#3a3a3a" stroke-width="0.8"/>
<ellipse cx="267.35" cy="225.75" rx="28.55" ry="8.45" fill="#fff" stroke="#3a3a3a" stroke-width="0.8"/>
<ellipse cx="267.35" cy="228.3" rx="27.9" ry="5.85" fill="#e2a595" stroke="#b9786b" stroke-width="0.4"/>
<ellipse cx="248.8" cy="224.4" rx="1.15" ry="0.62" fill="#949090"/>
<ellipse cx="254.4" cy="224.4" rx="1.15" ry="0.62" fill="#949090"/>
<ellipse cx="260.0" cy="224.4" rx="1.15" ry="0.62" fill="#949090"/>
<ellipse cx="265.6" cy="224.4" rx="1.15" ry="0.62" fill="#949090"/>
<ellipse cx="271.2" cy="224.4" rx="1.15" ry="0.62" fill="#949090"/>
<ellipse cx="276.8" cy="224.4" rx="1.15" ry="0.62" fill="#949090"/>
<ellipse cx="282.4" cy="224.4" rx="1.15" ry="0.62" fill="#949090"/>
<ellipse cx="246.0" cy="226.4" rx="1.15" ry="0.62" fill="#949090"/>
<ellipse cx="251.6" cy="226.4" rx="1.15" ry="0.62" fill="#949090"/>
<ellipse cx="257.2" cy="226.4" rx="1.15" ry="0.62" fill="#949090"/>
<ellipse cx="262.8" cy="226.4" rx="1.15" ry="0.62" fill="#949090"/>
<ellipse cx="268.4" cy="226.4" rx="1.15" ry="0.62" fill="#949090"/>
<ellipse cx="274.0" cy="226.4" rx="1.15" ry="0.62" fill="#949090"/>
<ellipse cx="279.6" cy="226.4" rx="1.15" ry="0.62" fill="#949090"/>
<ellipse cx="285.2" cy="226.4" rx="1.15" ry="0.62" fill="#949090"/>
<ellipse cx="290.8" cy="226.4" rx="1.15" ry="0.62" fill="#949090"/>
<ellipse cx="241.7" cy="228.4" rx="1.15" ry="0.62" fill="#949090"/>
<ellipse cx="247.3" cy="228.4" rx="1.15" ry="0.62" fill="#949090"/>
<ellipse cx="252.9" cy="228.4" rx="1.15" ry="0.62" fill="#949090"/>
<ellipse cx="258.5" cy="228.4" rx="1.15" ry="0.62" fill="#949090"/>
<ellipse cx="264.1" cy="228.4" rx="1.15" ry="0.62" fill="#949090"/>
<ellipse cx="269.7" cy="228.4" rx="1.15" ry="0.62" fill="#949090"/>
<ellipse cx="275.3" cy="228.4" rx="1.15" ry="0.62" fill="#949090"/>
<ellipse cx="280.9" cy="228.4" rx="1.15" ry="0.62" fill="#949090"/>
<ellipse cx="286.5" cy="228.4" rx="1.15" ry="0.62" fill="#949090"/>
<ellipse cx="292.1" cy="228.4" rx="1.15" ry="0.62" fill="#949090"/>
<ellipse cx="246.3" cy="230.4" rx="1.15" ry="0.62" fill="#949090"/>
<ellipse cx="251.9" cy="230.4" rx="1.15" ry="0.62" fill="#949090"/>
<ellipse cx="257.5" cy="230.4" rx="1.15" ry="0.62" fill="#949090"/>
<ellipse cx="263.1" cy="230.4" rx="1.15" ry="0.62" fill="#949090"/>
<ellipse cx="268.7" cy="230.4" rx="1.15" ry="0.62" fill="#949090"/>
<ellipse cx="274.3" cy="230.4" rx="1.15" ry="0.62" fill="#949090"/>
<ellipse cx="279.9" cy="230.4" rx="1.15" ry="0.62" fill="#949090"/>
<ellipse cx="285.5" cy="230.4" rx="1.15" ry="0.62" fill="#949090"/>
<ellipse cx="291.1" cy="230.4" rx="1.15" ry="0.62" fill="#949090"/>
<ellipse cx="249.6" cy="232.4" rx="1.15" ry="0.62" fill="#949090"/>
<ellipse cx="255.2" cy="232.4" rx="1.15" ry="0.62" fill="#949090"/>
<ellipse cx="260.8" cy="232.4" rx="1.15" ry="0.62" fill="#949090"/>
<ellipse cx="266.4" cy="232.4" rx="1.15" ry="0.62" fill="#949090"/>
<ellipse cx="272.0" cy="232.4" rx="1.15" ry="0.62" fill="#949090"/>
<ellipse cx="277.6" cy="232.4" rx="1.15" ry="0.62" fill="#949090"/>
<ellipse cx="283.2" cy="232.4" rx="1.15" ry="0.62" fill="#949090"/>
<path d="M343.4,239.8 L426.6,239.8 L426.6,245.3 L343.4,245.3 Z" fill="#fff" stroke="#333" stroke-width="0.8"/>
<rect x="343.4" y="243.9" width="83.2" height="1.4" fill="#9a9a9a"/>
<path d="M356.9,210.2 L411.4,210.2 L426.6,239.8 L343.4,239.8 Z" fill="#fff" stroke="#222" stroke-width="0.9"/>
<ellipse cx="358.90" cy="212.90" rx="1.45" ry="0.85" fill="#fff" stroke="#3a3a3a" stroke-width="0.5"/>
<ellipse cx="363.52" cy="212.90" rx="1.45" ry="0.85" fill="#fff" stroke="#3a3a3a" stroke-width="0.5"/>
<ellipse cx="368.14" cy="212.90" rx="1.45" ry="0.85" fill="#a8102e" stroke="#5a0a18" stroke-width="0.3"/>
<ellipse cx="372.75" cy="212.90" rx="1.45" ry="0.85" fill="#fff" stroke="#3a3a3a" stroke-width="0.5"/>
<ellipse cx="377.37" cy="212.90" rx="1.45" ry="0.85" fill="#fff" stroke="#3a3a3a" stroke-width="0.5"/>
<ellipse cx="381.99" cy="212.90" rx="1.45" ry="0.85" fill="#fff" stroke="#3a3a3a" stroke-width="0.5"/>
<ellipse cx="386.61" cy="212.90" rx="1.45" ry="0.85" fill="#fff" stroke="#3a3a3a" stroke-width="0.5"/>
<ellipse cx="391.23" cy="212.90" rx="1.45" ry="0.85" fill="#a8102e" stroke="#5a0a18" stroke-width="0.3"/>
<ellipse cx="395.85" cy="212.90" rx="1.45" ry="0.85" fill="#fff" stroke="#3a3a3a" stroke-width="0.5"/>
<ellipse cx="400.46" cy="212.90" rx="1.45" ry="0.85" fill="#fff" stroke="#3a3a3a" stroke-width="0.5"/>
<ellipse cx="405.08" cy="212.90" rx="1.45" ry="0.85" fill="#fff" stroke="#3a3a3a" stroke-width="0.5"/>
<ellipse cx="409.70" cy="212.90" rx="1.45" ry="0.85" fill="#fff" stroke="#3a3a3a" stroke-width="0.5"/>
<ellipse cx="357.70" cy="216.15" rx="1.56" ry="0.93" fill="#fff" stroke="#3a3a3a" stroke-width="0.5"/>
<ellipse cx="362.55" cy="216.15" rx="1.56" ry="0.93" fill="#fff" stroke="#3a3a3a" stroke-width="0.5"/>
<ellipse cx="367.41" cy="216.15" rx="1.56" ry="0.93" fill="#fff" stroke="#3a3a3a" stroke-width="0.5"/>
<ellipse cx="372.26" cy="216.15" rx="1.56" ry="0.93" fill="#fff" stroke="#3a3a3a" stroke-width="0.5"/>
<ellipse cx="377.12" cy="216.15" rx="1.56" ry="0.93" fill="#fff" stroke="#3a3a3a" stroke-width="0.5"/>
<ellipse cx="381.97" cy="216.15" rx="1.56" ry="0.93" fill="#a8102e" stroke="#5a0a18" stroke-width="0.3"/>
<ellipse cx="386.83" cy="216.15" rx="1.56" ry="0.93" fill="#fff" stroke="#3a3a3a" stroke-width="0.5"/>
<ellipse cx="391.68" cy="216.15" rx="1.56" ry="0.93" fill="#fff" stroke="#3a3a3a" stroke-width="0.5"/>
<ellipse cx="396.54" cy="216.15" rx="1.56" ry="0.93" fill="#fff" stroke="#3a3a3a" stroke-width="0.5"/>
<ellipse cx="401.39" cy="216.15" rx="1.56" ry="0.93" fill="#fff" stroke="#3a3a3a" stroke-width="0.5"/>
<ellipse cx="406.25" cy="216.15" rx="1.56" ry="0.93" fill="#a8102e" stroke="#5a0a18" stroke-width="0.3"/>
<ellipse cx="411.10" cy="216.15" rx="1.56" ry="0.93" fill="#fff" stroke="#3a3a3a" stroke-width="0.5"/>
<ellipse cx="356.50" cy="219.40" rx="1.66" ry="1.01" fill="#fff" stroke="#3a3a3a" stroke-width="0.5"/>
<ellipse cx="361.59" cy="219.40" rx="1.66" ry="1.01" fill="#a8102e" stroke="#5a0a18" stroke-width="0.3"/>
<ellipse cx="366.68" cy="219.40" rx="1.66" ry="1.01" fill="#a8102e" stroke="#5a0a18" stroke-width="0.3"/>
<ellipse cx="371.77" cy="219.40" rx="1.66" ry="1.01" fill="#fff" stroke="#3a3a3a" stroke-width="0.5"/>
<ellipse cx="376.86" cy="219.40" rx="1.66" ry="1.01" fill="#a8102e" stroke="#5a0a18" stroke-width="0.3"/>
<ellipse cx="381.95" cy="219.40" rx="1.66" ry="1.01" fill="#fff" stroke="#3a3a3a" stroke-width="0.5"/>
<ellipse cx="387.05" cy="219.40" rx="1.66" ry="1.01" fill="#fff" stroke="#3a3a3a" stroke-width="0.5"/>
<ellipse cx="392.14" cy="219.40" rx="1.66" ry="1.01" fill="#a8102e" stroke="#5a0a18" stroke-width="0.3"/>
<ellipse cx="397.23" cy="219.40" rx="1.66" ry="1.01" fill="#fff" stroke="#3a3a3a" stroke-width="0.5"/>
<ellipse cx="402.32" cy="219.40" rx="1.66" ry="1.01" fill="#fff" stroke="#3a3a3a" stroke-width="0.5"/>
<ellipse cx="407.41" cy="219.40" rx="1.66" ry="1.01" fill="#fff" stroke="#3a3a3a" stroke-width="0.5"/>
<ellipse cx="412.50" cy="219.40" rx="1.66" ry="1.01" fill="#fff" stroke="#3a3a3a" stroke-width="0.5"/>
<ellipse cx="355.30" cy="222.65" rx="1.77" ry="1.09" fill="#fff" stroke="#3a3a3a" stroke-width="0.5"/>
<ellipse cx="360.63" cy="222.65" rx="1.77" ry="1.09" fill="#fff" stroke="#3a3a3a" stroke-width="0.5"/>
<ellipse cx="365.95" cy="222.65" rx="1.77" ry="1.09" fill="#fff" stroke="#3a3a3a" stroke-width="0.5"/>
<ellipse cx="371.28" cy="222.65" rx="1.77" ry="1.09" fill="#fff" stroke="#3a3a3a" stroke-width="0.5"/>
<ellipse cx="376.61" cy="222.65" rx="1.77" ry="1.09" fill="#fff" stroke="#3a3a3a" stroke-width="0.5"/>
<ellipse cx="381.94" cy="222.65" rx="1.77" ry="1.09" fill="#fff" stroke="#3a3a3a" stroke-width="0.5"/>
<ellipse cx="387.26" cy="222.65" rx="1.77" ry="1.09" fill="#fff" stroke="#3a3a3a" stroke-width="0.5"/>
<ellipse cx="392.59" cy="222.65" rx="1.77" ry="1.09" fill="#fff" stroke="#3a3a3a" stroke-width="0.5"/>
<ellipse cx="397.92" cy="222.65" rx="1.77" ry="1.09" fill="#fff" stroke="#3a3a3a" stroke-width="0.5"/>
<ellipse cx="403.25" cy="222.65" rx="1.77" ry="1.09" fill="#a8102e" stroke="#5a0a18" stroke-width="0.3"/>
<ellipse cx="408.57" cy="222.65" rx="1.77" ry="1.09" fill="#fff" stroke="#3a3a3a" stroke-width="0.5"/>
<ellipse cx="413.90" cy="222.65" rx="1.77" ry="1.09" fill="#fff" stroke="#3a3a3a" stroke-width="0.5"/>
<ellipse cx="354.10" cy="225.90" rx="1.88" ry="1.16" fill="#fff" stroke="#3a3a3a" stroke-width="0.5"/>
<ellipse cx="359.66" cy="225.90" rx="1.88" ry="1.16" fill="#a8102e" stroke="#5a0a18" stroke-width="0.3"/>
<ellipse cx="365.23" cy="225.90" rx="1.88" ry="1.16" fill="#fff" stroke="#3a3a3a" stroke-width="0.5"/>
<ellipse cx="370.79" cy="225.90" rx="1.88" ry="1.16" fill="#a8102e" stroke="#5a0a18" stroke-width="0.3"/>
<ellipse cx="376.35" cy="225.90" rx="1.88" ry="1.16" fill="#fff" stroke="#3a3a3a" stroke-width="0.5"/>
<ellipse cx="381.92" cy="225.90" rx="1.88" ry="1.16" fill="#a8102e" stroke="#5a0a18" stroke-width="0.3"/>
<ellipse cx="387.48" cy="225.90" rx="1.88" ry="1.16" fill="#fff" stroke="#3a3a3a" stroke-width="0.5"/>
<ellipse cx="393.05" cy="225.90" rx="1.88" ry="1.16" fill="#fff" stroke="#3a3a3a" stroke-width="0.5"/>
<ellipse cx="398.61" cy="225.90" rx="1.88" ry="1.16" fill="#a8102e" stroke="#5a0a18" stroke-width="0.3"/>
<ellipse cx="404.17" cy="225.90" rx="1.88" ry="1.16" fill="#fff" stroke="#3a3a3a" stroke-width="0.5"/>
<ellipse cx="409.74" cy="225.90" rx="1.88" ry="1.16" fill="#a8102e" stroke="#5a0a18" stroke-width="0.3"/>
<ellipse cx="415.30" cy="225.90" rx="1.88" ry="1.16" fill="#fff" stroke="#3a3a3a" stroke-width="0.5"/>
<ellipse cx="352.90" cy="229.15" rx="1.99" ry="1.24" fill="#fff" stroke="#3a3a3a" stroke-width="0.5"/>
<ellipse cx="358.70" cy="229.15" rx="1.99" ry="1.24" fill="#fff" stroke="#3a3a3a" stroke-width="0.5"/>
<ellipse cx="364.50" cy="229.15" rx="1.99" ry="1.24" fill="#fff" stroke="#3a3a3a" stroke-width="0.5"/>
<ellipse cx="370.30" cy="229.15" rx="1.99" ry="1.24" fill="#fff" stroke="#3a3a3a" stroke-width="0.5"/>
<ellipse cx="376.10" cy="229.15" rx="1.99" ry="1.24" fill="#fff" stroke="#3a3a3a" stroke-width="0.5"/>
<ellipse cx="381.90" cy="229.15" rx="1.99" ry="1.24" fill="#fff" stroke="#3a3a3a" stroke-width="0.5"/>
<ellipse cx="387.70" cy="229.15" rx="1.99" ry="1.24" fill="#fff" stroke="#3a3a3a" stroke-width="0.5"/>
<ellipse cx="393.50" cy="229.15" rx="1.99" ry="1.24" fill="#fff" stroke="#3a3a3a" stroke-width="0.5"/>
<ellipse cx="399.30" cy="229.15" rx="1.99" ry="1.24" fill="#fff" stroke="#3a3a3a" stroke-width="0.5"/>
<ellipse cx="405.10" cy="229.15" rx="1.99" ry="1.24" fill="#fff" stroke="#3a3a3a" stroke-width="0.5"/>
<ellipse cx="410.90" cy="229.15" rx="1.99" ry="1.24" fill="#fff" stroke="#3a3a3a" stroke-width="0.5"/>
<ellipse cx="416.70" cy="229.15" rx="1.99" ry="1.24" fill="#fff" stroke="#3a3a3a" stroke-width="0.5"/>
<ellipse cx="351.70" cy="232.40" rx="2.09" ry="1.32" fill="#fff" stroke="#3a3a3a" stroke-width="0.5"/>
<ellipse cx="357.74" cy="232.40" rx="2.09" ry="1.32" fill="#fff" stroke="#3a3a3a" stroke-width="0.5"/>
<ellipse cx="363.77" cy="232.40" rx="2.09" ry="1.32" fill="#a8102e" stroke="#5a0a18" stroke-width="0.3"/>
<ellipse cx="369.81" cy="232.40" rx="2.09" ry="1.32" fill="#fff" stroke="#3a3a3a" stroke-width="0.5"/>
<ellipse cx="375.85" cy="232.40" rx="2.09" ry="1.32" fill="#fff" stroke="#3a3a3a" stroke-width="0.5"/>
<ellipse cx="381.88" cy="232.40" rx="2.09" ry="1.32" fill="#fff" stroke="#3a3a3a" stroke-width="0.5"/>
<ellipse cx="387.92" cy="232.40" rx="2.09" ry="1.32" fill="#fff" stroke="#3a3a3a" stroke-width="0.5"/>
<ellipse cx="393.95" cy="232.40" rx="2.09" ry="1.32" fill="#fff" stroke="#3a3a3a" stroke-width="0.5"/>
<ellipse cx="399.99" cy="232.40" rx="2.09" ry="1.32" fill="#fff" stroke="#3a3a3a" stroke-width="0.5"/>
<ellipse cx="406.03" cy="232.40" rx="2.09" ry="1.32" fill="#a8102e" stroke="#5a0a18" stroke-width="0.3"/>
<ellipse cx="412.06" cy="232.40" rx="2.09" ry="1.32" fill="#fff" stroke="#3a3a3a" stroke-width="0.5"/>
<ellipse cx="418.10" cy="232.40" rx="2.09" ry="1.32" fill="#fff" stroke="#3a3a3a" stroke-width="0.5"/>
<ellipse cx="350.50" cy="235.65" rx="2.20" ry="1.40" fill="#fff" stroke="#3a3a3a" stroke-width="0.5"/>
<ellipse cx="356.77" cy="235.65" rx="2.20" ry="1.40" fill="#a8102e" stroke="#5a0a18" stroke-width="0.3"/>
<ellipse cx="363.05" cy="235.65" rx="2.20" ry="1.40" fill="#fff" stroke="#3a3a3a" stroke-width="0.5"/>
<ellipse cx="369.32" cy="235.65" rx="2.20" ry="1.40" fill="#a8102e" stroke="#5a0a18" stroke-width="0.3"/>
<ellipse cx="375.59" cy="235.65" rx="2.20" ry="1.40" fill="#fff" stroke="#3a3a3a" stroke-width="0.5"/>
<ellipse cx="381.86" cy="235.65" rx="2.20" ry="1.40" fill="#fff" stroke="#3a3a3a" stroke-width="0.5"/>
<ellipse cx="388.14" cy="235.65" rx="2.20" ry="1.40" fill="#a8102e" stroke="#5a0a18" stroke-width="0.3"/>
<ellipse cx="394.41" cy="235.65" rx="2.20" ry="1.40" fill="#fff" stroke="#3a3a3a" stroke-width="0.5"/>
<ellipse cx="400.68" cy="235.65" rx="2.20" ry="1.40" fill="#fff" stroke="#3a3a3a" stroke-width="0.5"/>
<ellipse cx="406.95" cy="235.65" rx="2.20" ry="1.40" fill="#fff" stroke="#3a3a3a" stroke-width="0.5"/>
<ellipse cx="413.23" cy="235.65" rx="2.20" ry="1.40" fill="#fff" stroke="#3a3a3a" stroke-width="0.5"/>
<ellipse cx="419.50" cy="235.65" rx="2.20" ry="1.40" fill="#a8102e" stroke="#5a0a18" stroke-width="0.3"/>
<path d="M474.6,213.2 C474.5,218.6 478.4,220.8 479.4,223.7 C480.6,226.8 483.2,230.0 483.2,241.0" fill="none" stroke="#333" stroke-width="5.0" stroke-linecap="round"/>
<path d="M484.3,213.2 C484.4,218.6 480.4,220.8 479.4,223.7 C478.2,226.8 475.5,230.0 475.5,241.0" fill="none" stroke="#333" stroke-width="5.0" stroke-linecap="round"/>
<path d="M474.6,213.2 C474.5,218.6 478.4,220.8 479.4,223.7 C480.6,226.8 483.2,230.0 483.2,241.0" fill="none" stroke="#acacac" stroke-width="3.9" stroke-linecap="round"/>
<path d="M474.6,213.2 C474.5,218.6 478.4,220.8 479.4,223.7 C480.6,226.8 483.2,230.0 483.2,241.0" fill="none" stroke="#d8d8d8" stroke-width="1.4" stroke-linecap="round"/>
<path d="M484.3,213.2 C484.4,218.6 480.4,220.8 479.4,223.7 C478.2,226.8 475.5,230.0 475.5,241.0" fill="none" stroke="#acacac" stroke-width="3.9" stroke-linecap="round"/>
<path d="M484.3,213.2 C484.4,218.6 480.4,220.8 479.4,223.7 C478.2,226.8 475.5,230.0 475.5,241.0" fill="none" stroke="#d8d8d8" stroke-width="1.4" stroke-linecap="round"/>
<ellipse cx="474.6" cy="212.9" rx="2.3" ry="1.5" fill="#111"/>
<ellipse cx="484.3" cy="212.9" rx="2.3" ry="1.5" fill="#111"/>
<ellipse cx="475.5" cy="241.3" rx="2.3" ry="1.5" fill="#111"/>
<ellipse cx="483.2" cy="241.3" rx="2.3" ry="1.5" fill="#111"/>
<circle cx="483.3" cy="241.2" r="4.3" fill="none" stroke="#444" stroke-width="0.6" stroke-dasharray="1.1 1.1"/>
<line x1="484.9" y1="245.2" x2="487.6" y2="249.8" stroke="#444" stroke-width="0.6" stroke-dasharray="1.1 1.1"/>
<text x="478.70" y="256.50" font-size="7.3" fill="#505050" text-anchor="start" font-family='"Liberation Mono", monospace' textLength="26.80" lengthAdjust="spacingAndGlyphs" stroke="none">(TTAGGG)</text>
<text x="506.90" y="258.20" font-size="4.2" fill="#505050" text-anchor="start" font-family='"Liberation Mono", monospace' stroke="none">n</text>
<text x="7.50" y="288.70" font-size="12" fill="#111" text-anchor="start" font-weight="bold" >E</text>
<text x="74.30" y="302.30" font-size="8.8" fill="#222" text-anchor="middle" textLength="9.20" lengthAdjust="spacingAndGlyphs" stroke="#222" stroke-width="0.24">R1</text>
<text x="49.00" y="317.70" font-size="8.9" fill="#b5133f" text-anchor="start" font-style="italic" textLength="35.80" lengthAdjust="spacingAndGlyphs" stroke="#b5133f" stroke-width="0.15">DNMT3A</text>
<text x="84.60" y="314.70" font-size="6.4" fill="#b5133f" text-anchor="start" textLength="16.40" lengthAdjust="spacingAndGlyphs" stroke="#b5133f" stroke-width="0.08">splice</text>
<text x="58.80" y="326.90" font-size="8.9" fill="#7a5a38" text-anchor="start" font-style="italic" textLength="13.50" lengthAdjust="spacingAndGlyphs" stroke="#7a5a38" stroke-width="0.15">KIT</text>
<text x="72.90" y="324.30" font-size="6.4" fill="#7a5a38" text-anchor="start" textLength="17.90" lengthAdjust="spacingAndGlyphs" stroke="#7a5a38" stroke-width="0.08">N145S</text>
<line x1="46.00" y1="333.40" x2="46.00" y2="423.40" stroke="#333" stroke-width="1.5" />
<line x1="43.00" y1="422.70" x2="46.00" y2="422.70" stroke="#333" stroke-width="1.0" />
<text x="39.60" y="425.00" font-size="7.4" fill="#333" text-anchor="end" textLength="8.64" lengthAdjust="spacingAndGlyphs" stroke="#444" stroke-width="0.12">0.0</text>
<line x1="43.00" y1="408.25" x2="46.00" y2="408.25" stroke="#333" stroke-width="1.0" />
<text x="39.60" y="410.55" font-size="7.4" fill="#333" text-anchor="end" textLength="8.64" lengthAdjust="spacingAndGlyphs" stroke="#444" stroke-width="0.12">0.5</text>
<line x1="43.00" y1="393.80" x2="46.00" y2="393.80" stroke="#333" stroke-width="1.0" />
<text x="39.60" y="396.10" font-size="7.4" fill="#333" text-anchor="end" textLength="8.64" lengthAdjust="spacingAndGlyphs" stroke="#444" stroke-width="0.12">1.0</text>
<line x1="43.00" y1="379.35" x2="46.00" y2="379.35" stroke="#333" stroke-width="1.0" />
<text x="39.60" y="381.65" font-size="7.4" fill="#333" text-anchor="end" textLength="8.64" lengthAdjust="spacingAndGlyphs" stroke="#444" stroke-width="0.12">1.5</text>
<line x1="43.00" y1="364.90" x2="46.00" y2="364.90" stroke="#333" stroke-width="1.0" />
<text x="39.60" y="367.20" font-size="7.4" fill="#333" text-anchor="end" textLength="8.64" lengthAdjust="spacingAndGlyphs" stroke="#444" stroke-width="0.12">2.0</text>
<line x1="43.00" y1="350.45" x2="46.00" y2="350.45" stroke="#333" stroke-width="1.0" />
<text x="39.60" y="352.75" font-size="7.4" fill="#333" text-anchor="end" textLength="8.64" lengthAdjust="spacingAndGlyphs" stroke="#444" stroke-width="0.12">2.5</text>
<line x1="43.00" y1="336.00" x2="46.00" y2="336.00" stroke="#333" stroke-width="1.0" />
<text x="39.60" y="338.30" font-size="7.4" fill="#333" text-anchor="end" textLength="8.64" lengthAdjust="spacingAndGlyphs" stroke="#444" stroke-width="0.12">3.0</text>
<text x="25.66" y="377.60" font-size="8.3" fill="#2e2e2e" text-anchor="middle" textLength="80.50" lengthAdjust="spacingAndGlyphs" transform="rotate(-90 25.66 377.60)" stroke="#2e2e2e" stroke-width="0.1">Telomere length [T/S ratio]</text>
<line x1="44.00" y1="422.70" x2="103.30" y2="422.70" stroke="#333" stroke-width="1.4" />
<line x1="60.50" y1="422.70" x2="60.50" y2="425.30" stroke="#333" stroke-width="1.0" />
<line x1="89.20" y1="422.70" x2="89.20" y2="425.30" stroke="#333" stroke-width="1.0" />
<text x="60.50" y="434.80" font-size="6.6" fill="#333" text-anchor="middle"  stroke="#333" stroke-width="0.16">No</text>
<text x="60.50" y="442.30" font-size="6.6" fill="#333" text-anchor="middle"  stroke="#333" stroke-width="0.16">Mutation</text>
<text x="89.20" y="434.80" font-size="6.6" fill="#333" text-anchor="middle"  stroke="#333" stroke-width="0.16">Mutation</text>
<line x1="60.20" y1="345.90" x2="89.50" y2="345.90" stroke="#333" stroke-width="1.0" />
<line x1="60.20" y1="345.00" x2="60.20" y2="346.80" stroke="#333" stroke-width="1.0" />
<line x1="89.50" y1="345.00" x2="89.50" y2="346.80" stroke="#333" stroke-width="1.0" />
<text x="74.85" y="343.30" font-size="5.7" fill="#444" text-anchor="middle" textLength="16.90" lengthAdjust="spacingAndGlyphs"  stroke="#444" stroke-width="0.1">0.2077</text>
<line x1="60.50" y1="381.30" x2="60.50" y2="422.50" stroke="#3a3a3a" stroke-width="1.0" />
<rect x="51.00" y="406.70" width="19.00" height="14.80" fill="#969abf" />
<line x1="55.80" y1="381.30" x2="65.20" y2="381.30" stroke="#333" stroke-width="1.0" />
<line x1="55.80" y1="422.50" x2="65.20" y2="422.50" stroke="#333" stroke-width="1.0" />
<circle cx="60.50" cy="381.30" r="1.45" fill="#1d3a78" />
<circle cx="60.50" cy="396.70" r="1.45" fill="#1d3a78" />
<circle cx="59.10" cy="402.50" r="1.45" fill="#1d3a78" />
<circle cx="61.70" cy="403.00" r="1.45" fill="#1d3a78" />
<circle cx="51.70" cy="405.90" r="1.45" fill="#1d3a78" />
<circle cx="54.30" cy="406.50" r="1.45" fill="#1d3a78" />
<circle cx="56.50" cy="406.70" r="1.45" fill="#1d3a78" />
<circle cx="58.60" cy="407.80" r="1.45" fill="#1d3a78" />
<circle cx="60.70" cy="406.70" r="1.45" fill="#1d3a78" />
<circle cx="62.80" cy="406.70" r="1.45" fill="#1d3a78" />
<circle cx="64.90" cy="406.50" r="1.45" fill="#1d3a78" />
<circle cx="67.60" cy="405.90" r="1.45" fill="#1d3a78" />
<circle cx="59.10" cy="409.40" r="1.45" fill="#1d3a78" />
<circle cx="62.80" cy="410.40" r="1.45" fill="#1d3a78" />
<circle cx="60.70" cy="412.50" r="1.45" fill="#1d3a78" />
<circle cx="58.60" cy="415.00" r="1.45" fill="#1d3a78" />
<circle cx="62.30" cy="414.70" r="1.45" fill="#1d3a78" />
<circle cx="57.50" cy="417.50" r="1.45" fill="#1d3a78" />
<circle cx="63.30" cy="417.30" r="1.45" fill="#1d3a78" />
<circle cx="60.50" cy="418.60" r="1.45" fill="#1d3a78" />
<circle cx="51.80" cy="421.00" r="1.45" fill="#1d3a78" />
<circle cx="54.20" cy="421.30" r="1.45" fill="#1d3a78" />
<circle cx="56.60" cy="421.10" r="1.45" fill="#1d3a78" />
<circle cx="59.00" cy="421.40" r="1.45" fill="#1d3a78" />
<circle cx="62.00" cy="421.40" r="1.45" fill="#1d3a78" />
<circle cx="64.50" cy="421.20" r="1.45" fill="#1d3a78" />
<circle cx="67.00" cy="421.20" r="1.45" fill="#1d3a78" />
<circle cx="69.20" cy="421.00" r="1.45" fill="#1d3a78" />
<circle cx="60.50" cy="422.60" r="1.45" fill="#1d3a78" />
<line x1="51.00" y1="413.50" x2="70.00" y2="413.50" stroke="#111" stroke-width="1.3" />
<line x1="89.20" y1="351.20" x2="89.20" y2="422.70" stroke="#3a3a3a" stroke-width="1.0" />
<rect x="79.60" y="401.00" width="19.20" height="18.50" fill="#d08c7f" />
<line x1="84.70" y1="351.20" x2="93.70" y2="351.20" stroke="#333" stroke-width="1.0" />
<line x1="84.70" y1="422.70" x2="93.70" y2="422.70" stroke="#333" stroke-width="1.0" />
<circle cx="88.90" cy="351.20" r="1.45" fill="#b3002d" />
<circle cx="88.90" cy="363.30" r="1.45" fill="#b3002d" />
<circle cx="88.90" cy="387.70" r="1.45" fill="#b3002d" />
<circle cx="88.90" cy="393.90" r="1.45" fill="#b3002d" />
<circle cx="89.20" cy="399.90" r="1.45" fill="#b3002d" />
<circle cx="84.80" cy="401.40" r="1.45" fill="#b3002d" />
<circle cx="93.70" cy="400.70" r="1.45" fill="#b3002d" />
<circle cx="87.70" cy="403.30" r="1.45" fill="#b3002d" />
<circle cx="90.80" cy="402.50" r="1.45" fill="#b3002d" />
<circle cx="86.60" cy="411.50" r="1.45" fill="#b3002d" />
<circle cx="89.20" cy="411.00" r="1.45" fill="#b3002d" />
<circle cx="91.40" cy="412.00" r="1.45" fill="#b3002d" />
<circle cx="87.10" cy="413.60" r="1.45" fill="#b3002d" />
<circle cx="90.80" cy="413.60" r="1.45" fill="#b3002d" />
<circle cx="89.20" cy="415.70" r="1.45" fill="#b3002d" />
<circle cx="85.00" cy="417.30" r="1.45" fill="#b3002d" />
<circle cx="93.50" cy="417.80" r="1.45" fill="#b3002d" />
<circle cx="87.70" cy="418.40" r="1.45" fill="#b3002d" />
<circle cx="90.80" cy="418.40" r="1.45" fill="#b3002d" />
<circle cx="96.70" cy="420.00" r="1.45" fill="#b3002d" />
<circle cx="81.80" cy="421.00" r="1.45" fill="#b3002d" />
<circle cx="84.50" cy="421.50" r="1.45" fill="#b3002d" />
<circle cx="87.70" cy="421.50" r="1.45" fill="#b3002d" />
<circle cx="90.80" cy="421.50" r="1.45" fill="#b3002d" />
<circle cx="93.50" cy="421.50" r="1.45" fill="#b3002d" />
<circle cx="89.20" cy="423.10" r="1.45" fill="#b3002d" />
<line x1="79.60" y1="413.20" x2="98.80" y2="413.20" stroke="#111" stroke-width="1.3" />
<text x="174.90" y="302.30" font-size="8.8" fill="#222" text-anchor="middle" textLength="13.20" lengthAdjust="spacingAndGlyphs" stroke="#222" stroke-width="0.24">R11</text>
<text x="152.90" y="316.40" font-size="8.9" fill="#b5133f" text-anchor="start" font-style="italic" textLength="19.30" lengthAdjust="spacingAndGlyphs" stroke="#b5133f" stroke-width="0.15">TET2</text>
<text x="174.50" y="313.40" font-size="6.4" fill="#b5133f" text-anchor="start" textLength="23.00" lengthAdjust="spacingAndGlyphs" stroke="#b5133f" stroke-width="0.08">G1275R</text>
<line x1="146.40" y1="333.00" x2="146.40" y2="423.70" stroke="#333" stroke-width="1.5" />
<line x1="143.40" y1="423.00" x2="146.40" y2="423.00" stroke="#333" stroke-width="1.0" />
<text x="140.00" y="425.30" font-size="7.4" fill="#333" text-anchor="end" textLength="8.64" lengthAdjust="spacingAndGlyphs" stroke="#444" stroke-width="0.12">0.0</text>
<line x1="143.40" y1="412.15" x2="146.40" y2="412.15" stroke="#333" stroke-width="1.0" />
<text x="140.00" y="414.45" font-size="7.4" fill="#333" text-anchor="end" textLength="8.64" lengthAdjust="spacingAndGlyphs" stroke="#444" stroke-width="0.12">0.1</text>
<line x1="143.40" y1="401.30" x2="146.40" y2="401.30" stroke="#333" stroke-width="1.0" />
<text x="140.00" y="403.60" font-size="7.4" fill="#333" text-anchor="end" textLength="8.64" lengthAdjust="spacingAndGlyphs" stroke="#444" stroke-width="0.12">0.2</text>
<line x1="143.40" y1="390.45" x2="146.40" y2="390.45" stroke="#333" stroke-width="1.0" />
<text x="140.00" y="392.75" font-size="7.4" fill="#333" text-anchor="end" textLength="8.64" lengthAdjust="spacingAndGlyphs" stroke="#444" stroke-width="0.12">0.3</text>
<line x1="143.40" y1="379.60" x2="146.40" y2="379.60" stroke="#333" stroke-width="1.0" />
<text x="140.00" y="381.90" font-size="7.4" fill="#333" text-anchor="end" textLength="8.64" lengthAdjust="spacingAndGlyphs" stroke="#444" stroke-width="0.12">0.4</text>
<line x1="143.40" y1="368.75" x2="146.40" y2="368.75" stroke="#333" stroke-width="1.0" />
<text x="140.00" y="371.05" font-size="7.4" fill="#333" text-anchor="end" textLength="8.64" lengthAdjust="spacingAndGlyphs" stroke="#444" stroke-width="0.12">0.5</text>
<line x1="143.40" y1="357.90" x2="146.40" y2="357.90" stroke="#333" stroke-width="1.0" />
<text x="140.00" y="360.20" font-size="7.4" fill="#333" text-anchor="end" textLength="8.64" lengthAdjust="spacingAndGlyphs" stroke="#444" stroke-width="0.12">0.6</text>
<line x1="143.40" y1="347.05" x2="146.40" y2="347.05" stroke="#333" stroke-width="1.0" />
<text x="140.00" y="349.35" font-size="7.4" fill="#333" text-anchor="end" textLength="8.64" lengthAdjust="spacingAndGlyphs" stroke="#444" stroke-width="0.12">0.7</text>
<line x1="143.40" y1="336.20" x2="146.40" y2="336.20" stroke="#333" stroke-width="1.0" />
<text x="140.00" y="338.50" font-size="7.4" fill="#333" text-anchor="end" textLength="8.64" lengthAdjust="spacingAndGlyphs" stroke="#444" stroke-width="0.12">0.8</text>
<text x="126.46" y="377.50" font-size="8.3" fill="#2e2e2e" text-anchor="middle" textLength="81.60" lengthAdjust="spacingAndGlyphs" transform="rotate(-90 126.46 377.50)" stroke="#2e2e2e" stroke-width="0.1">Telomere length [T/S ratio]</text>
<line x1="144.40" y1="423.00" x2="203.40" y2="423.00" stroke="#333" stroke-width="1.4" />
<line x1="160.60" y1="423.00" x2="160.60" y2="425.60" stroke="#333" stroke-width="1.0" />
<line x1="189.70" y1="423.00" x2="189.70" y2="425.60" stroke="#333" stroke-width="1.0" />
<text x="160.60" y="434.80" font-size="6.6" fill="#333" text-anchor="middle"  stroke="#333" stroke-width="0.16">No</text>
<text x="160.60" y="442.30" font-size="6.6" fill="#333" text-anchor="middle"  stroke="#333" stroke-width="0.16">Mutation</text>
<text x="189.70" y="434.80" font-size="6.6" fill="#333" text-anchor="middle"  stroke="#333" stroke-width="0.16">Mutation</text>
<line x1="160.20" y1="335.10" x2="189.80" y2="335.10" stroke="#333" stroke-width="1.0" />
<line x1="160.20" y1="334.20" x2="160.20" y2="336.00" stroke="#333" stroke-width="1.0" />
<line x1="189.80" y1="334.20" x2="189.80" y2="336.00" stroke="#333" stroke-width="1.0" />
<text x="175.00" y="332.50" font-size="5.7" fill="#444" text-anchor="middle" textLength="14.00" lengthAdjust="spacingAndGlyphs"  stroke="#444" stroke-width="0.1">0.043</text>
<line x1="160.60" y1="361.40" x2="160.60" y2="419.60" stroke="#3a3a3a" stroke-width="1.0" />
<rect x="151.10" y="401.50" width="19.00" height="14.20" fill="#969abf" />
<line x1="155.60" y1="361.40" x2="165.60" y2="361.40" stroke="#333" stroke-width="1.0" />
<line x1="155.60" y1="419.60" x2="165.60" y2="419.60" stroke="#333" stroke-width="1.0" />
<circle cx="160.50" cy="361.40" r="1.45" fill="#1d3a78" />
<circle cx="158.90" cy="374.00" r="1.45" fill="#1d3a78" />
<circle cx="162.00" cy="374.00" r="1.45" fill="#1d3a78" />
<circle cx="160.50" cy="394.60" r="1.45" fill="#1d3a78" />
<circle cx="160.50" cy="398.00" r="1.45" fill="#1d3a78" />
<circle cx="160.50" cy="401.10" r="1.45" fill="#1d3a78" />
<circle cx="157.40" cy="406.50" r="1.45" fill="#1d3a78" />
<circle cx="160.50" cy="406.50" r="1.45" fill="#1d3a78" />
<circle cx="163.50" cy="405.70" r="1.45" fill="#1d3a78" />
<circle cx="153.50" cy="410.60" r="1.45" fill="#1d3a78" />
<circle cx="156.60" cy="411.20" r="1.45" fill="#1d3a78" />
<circle cx="159.60" cy="410.80" r="1.45" fill="#1d3a78" />
<circle cx="162.80" cy="411.20" r="1.45" fill="#1d3a78" />
<circle cx="166.00" cy="410.60" r="1.45" fill="#1d3a78" />
<circle cx="154.30" cy="413.40" r="1.45" fill="#1d3a78" />
<circle cx="157.30" cy="414.00" r="1.45" fill="#1d3a78" />
<circle cx="160.50" cy="414.30" r="1.45" fill="#1d3a78" />
<circle cx="163.80" cy="413.90" r="1.45" fill="#1d3a78" />
<circle cx="166.80" cy="413.40" r="1.45" fill="#1d3a78" />
<circle cx="155.00" cy="418.20" r="1.45" fill="#1d3a78" />
<circle cx="158.10" cy="419.10" r="1.45" fill="#1d3a78" />
<circle cx="161.20" cy="419.10" r="1.45" fill="#1d3a78" />
<circle cx="164.30" cy="418.60" r="1.45" fill="#1d3a78" />
<circle cx="166.60" cy="418.10" r="1.45" fill="#1d3a78" />
<line x1="151.10" y1="411.90" x2="170.10" y2="411.90" stroke="#111" stroke-width="1.3" />
<line x1="189.70" y1="339.60" x2="189.70" y2="419.30" stroke="#3a3a3a" stroke-width="1.0" />
<rect x="180.20" y="381.00" width="19.00" height="28.90" fill="#d08c7f" />
<line x1="184.70" y1="339.60" x2="194.70" y2="339.60" stroke="#333" stroke-width="1.0" />
<line x1="184.70" y1="419.30" x2="194.70" y2="419.30" stroke="#333" stroke-width="1.0" />
<circle cx="189.80" cy="339.60" r="1.45" fill="#b3002d" />
<circle cx="188.30" cy="374.00" r="1.45" fill="#b3002d" />
<circle cx="191.10" cy="373.30" r="1.45" fill="#b3002d" />
<circle cx="188.30" cy="379.50" r="1.45" fill="#b3002d" />
<circle cx="191.10" cy="380.20" r="1.45" fill="#b3002d" />
<circle cx="189.00" cy="384.10" r="1.45" fill="#b3002d" />
<circle cx="191.40" cy="384.90" r="1.45" fill="#b3002d" />
<circle cx="190.60" cy="387.20" r="1.45" fill="#b3002d" />
<circle cx="189.80" cy="395.70" r="1.45" fill="#b3002d" />
<circle cx="189.80" cy="401.10" r="1.45" fill="#b3002d" />
<circle cx="188.30" cy="403.40" r="1.45" fill="#b3002d" />
<circle cx="191.40" cy="403.90" r="1.45" fill="#b3002d" />
<circle cx="189.00" cy="406.50" r="1.45" fill="#b3002d" />
<circle cx="191.40" cy="407.30" r="1.45" fill="#b3002d" />
<circle cx="188.30" cy="410.40" r="1.45" fill="#b3002d" />
<circle cx="188.30" cy="413.50" r="1.45" fill="#b3002d" />
<circle cx="191.10" cy="414.20" r="1.45" fill="#b3002d" />
<circle cx="189.80" cy="419.30" r="1.45" fill="#b3002d" />
<line x1="180.20" y1="400.30" x2="199.20" y2="400.30" stroke="#111" stroke-width="1.3" />
<text x="74.70" y="466.70" font-size="8.8" fill="#222" text-anchor="middle" textLength="10.50" lengthAdjust="spacingAndGlyphs" stroke="#222" stroke-width="0.08">D3</text>
<text x="134.50" y="466.70" font-size="8.8" fill="#222" text-anchor="middle" textLength="10.50" lengthAdjust="spacingAndGlyphs" stroke="#222" stroke-width="0.08">R3</text>
<text x="84.60" y="481.70" font-size="8.9" fill="#b5133f" text-anchor="start" font-style="italic" textLength="18.90" lengthAdjust="spacingAndGlyphs" stroke="#b5133f" stroke-width="0.15">TET2</text>
<text x="104.10" y="478.70" font-size="6.4" fill="#b5133f" text-anchor="start" textLength="19.30" lengthAdjust="spacingAndGlyphs" stroke="#b5133f" stroke-width="0.08">T1884I</text>
<line x1="45.90" y1="498.00" x2="45.90" y2="587.50" stroke="#333" stroke-width="1.5" />
<line x1="42.90" y1="586.80" x2="45.90" y2="586.80" stroke="#333" stroke-width="1.0" />
<text x="39.50" y="589.10" font-size="7.4" fill="#333" text-anchor="end" textLength="8.64" lengthAdjust="spacingAndGlyphs" stroke="#444" stroke-width="0.12">0.0</text>
<line x1="42.90" y1="574.45" x2="45.90" y2="574.45" stroke="#333" stroke-width="1.0" />
<text x="39.50" y="576.75" font-size="7.4" fill="#333" text-anchor="end" textLength="8.64" lengthAdjust="spacingAndGlyphs" stroke="#444" stroke-width="0.12">0.5</text>
<line x1="42.90" y1="562.11" x2="45.90" y2="562.11" stroke="#333" stroke-width="1.0" />
<text x="39.50" y="564.41" font-size="7.4" fill="#333" text-anchor="end" textLength="8.64" lengthAdjust="spacingAndGlyphs" stroke="#444" stroke-width="0.12">1.0</text>
<line x1="42.90" y1="549.76" x2="45.90" y2="549.76" stroke="#333" stroke-width="1.0" />
<text x="39.50" y="552.06" font-size="7.4" fill="#333" text-anchor="end" textLength="8.64" lengthAdjust="spacingAndGlyphs" stroke="#444" stroke-width="0.12">1.5</text>
<line x1="42.90" y1="537.42" x2="45.90" y2="537.42" stroke="#333" stroke-width="1.0" />
<text x="39.50" y="539.72" font-size="7.4" fill="#333" text-anchor="end" textLength="8.64" lengthAdjust="spacingAndGlyphs" stroke="#444" stroke-width="0.12">2.0</text>
<line x1="42.90" y1="525.07" x2="45.90" y2="525.07" stroke="#333" stroke-width="1.0" />
<text x="39.50" y="527.37" font-size="7.4" fill="#333" text-anchor="end" textLength="8.64" lengthAdjust="spacingAndGlyphs" stroke="#444" stroke-width="0.12">2.5</text>
<line x1="42.90" y1="512.73" x2="45.90" y2="512.73" stroke="#333" stroke-width="1.0" />
<text x="39.50" y="515.03" font-size="7.4" fill="#333" text-anchor="end" textLength="8.64" lengthAdjust="spacingAndGlyphs" stroke="#444" stroke-width="0.12">3.0</text>
<line x1="42.90" y1="500.38" x2="45.90" y2="500.38" stroke="#333" stroke-width="1.0" />
<text x="39.50" y="502.68" font-size="7.4" fill="#333" text-anchor="end" textLength="8.64" lengthAdjust="spacingAndGlyphs" stroke="#444" stroke-width="0.12">3.5</text>
<text x="26.56" y="541.70" font-size="8.3" fill="#2e2e2e" text-anchor="middle" textLength="78.50" lengthAdjust="spacingAndGlyphs" transform="rotate(-90 26.56 541.70)" stroke="#2e2e2e" stroke-width="0.1">Telomere length [T/S ratio]</text>
<line x1="44.00" y1="586.80" x2="163.50" y2="586.80" stroke="#333" stroke-width="1.4" />
<line x1="60.50" y1="586.80" x2="60.50" y2="589.40" stroke="#333" stroke-width="1.0" />
<line x1="89.20" y1="586.80" x2="89.20" y2="589.40" stroke="#333" stroke-width="1.0" />
<line x1="119.60" y1="586.80" x2="119.60" y2="589.40" stroke="#333" stroke-width="1.0" />
<line x1="148.60" y1="586.80" x2="148.60" y2="589.40" stroke="#333" stroke-width="1.0" />
<text x="60.50" y="598.90" font-size="6.6" fill="#333" text-anchor="middle"  stroke="#333" stroke-width="0.16">No</text>
<text x="60.50" y="606.50" font-size="6.6" fill="#333" text-anchor="middle"  stroke="#333" stroke-width="0.16">Mutation</text>
<text x="89.20" y="598.90" font-size="6.6" fill="#333" text-anchor="middle"  stroke="#333" stroke-width="0.16">Mutation</text>
<text x="119.60" y="598.90" font-size="6.6" fill="#333" text-anchor="middle"  stroke="#333" stroke-width="0.16">No</text>
<text x="119.60" y="606.50" font-size="6.6" fill="#333" text-anchor="middle"  stroke="#333" stroke-width="0.16">Mutation</text>
<text x="148.60" y="598.90" font-size="6.6" fill="#333" text-anchor="middle"  stroke="#333" stroke-width="0.16">Mutation</text>
<line x1="104" y1="501.4" x2="104" y2="586.8" stroke="#808080" stroke-width="1.1" stroke-dasharray="2 2.3"/>
<line x1="60.20" y1="507.20" x2="89.50" y2="507.20" stroke="#333" stroke-width="1.0" />
<line x1="60.20" y1="506.30" x2="60.20" y2="508.10" stroke="#333" stroke-width="1.0" />
<line x1="89.50" y1="506.30" x2="89.50" y2="508.10" stroke="#333" stroke-width="1.0" />
<text x="74.85" y="504.50" font-size="5.7" fill="#444" text-anchor="middle" textLength="16.90" lengthAdjust="spacingAndGlyphs"  stroke="#444" stroke-width="0.1">0.1680</text>
<line x1="119.40" y1="548.00" x2="148.90" y2="548.00" stroke="#333" stroke-width="1.0" />
<line x1="119.40" y1="547.10" x2="119.40" y2="548.90" stroke="#333" stroke-width="1.0" />
<line x1="148.90" y1="547.10" x2="148.90" y2="548.90" stroke="#333" stroke-width="1.0" />
<text x="134.15" y="545.30" font-size="5.7" fill="#444" text-anchor="middle" textLength="16.90" lengthAdjust="spacingAndGlyphs"  stroke="#444" stroke-width="0.1">0.3176</text>
<line x1="60.50" y1="512.30" x2="60.50" y2="579.60" stroke="#3a3a3a" stroke-width="1.0" />
<rect x="51.05" y="560.20" width="18.90" height="15.50" fill="#969abf" />
<line x1="56.00" y1="512.30" x2="65.00" y2="512.30" stroke="#333" stroke-width="1.0" />
<line x1="56.00" y1="579.60" x2="65.00" y2="579.60" stroke="#333" stroke-width="1.0" />
<circle cx="60.50" cy="512.30" r="1.45" fill="#1d3a78" />
<circle cx="60.50" cy="544.30" r="1.45" fill="#1d3a78" />
<circle cx="60.50" cy="557.70" r="1.45" fill="#1d3a78" />
<circle cx="61.70" cy="560.70" r="1.45" fill="#1d3a78" />
<circle cx="58.90" cy="563.30" r="1.45" fill="#1d3a78" />
<circle cx="58.90" cy="568.10" r="1.45" fill="#1d3a78" />
<circle cx="63.10" cy="569.70" r="1.45" fill="#1d3a78" />
<circle cx="61.70" cy="571.50" r="1.45" fill="#1d3a78" />
<circle cx="58.90" cy="573.10" r="1.45" fill="#1d3a78" />
<circle cx="55.90" cy="575.20" r="1.45" fill="#1d3a78" />
<circle cx="58.90" cy="576.20" r="1.45" fill="#1d3a78" />
<circle cx="61.70" cy="576.80" r="1.45" fill="#1d3a78" />
<circle cx="64.60" cy="575.70" r="1.45" fill="#1d3a78" />
<circle cx="60.50" cy="579.60" r="1.45" fill="#1d3a78" />
<line x1="51.05" y1="570.60" x2="69.95" y2="570.60" stroke="#111" stroke-width="1.3" />
<line x1="89.50" y1="541.60" x2="89.50" y2="586.80" stroke="#3a3a3a" stroke-width="1.0" />
<rect x="80.00" y="566.50" width="19.00" height="14.80" fill="#d08c7f" />
<line x1="84.75" y1="541.60" x2="94.25" y2="541.60" stroke="#333" stroke-width="1.0" />
<line x1="84.75" y1="586.80" x2="94.25" y2="586.80" stroke="#333" stroke-width="1.0" />
<circle cx="89.20" cy="541.60" r="1.45" fill="#b3002d" />
<circle cx="89.20" cy="560.90" r="1.45" fill="#b3002d" />
<circle cx="89.20" cy="564.60" r="1.45" fill="#b3002d" />
<circle cx="87.70" cy="572.50" r="1.45" fill="#b3002d" />
<circle cx="90.60" cy="575.00" r="1.45" fill="#b3002d" />
<circle cx="83.40" cy="577.50" r="1.45" fill="#b3002d" />
<circle cx="93.50" cy="577.10" r="1.45" fill="#b3002d" />
<circle cx="86.30" cy="579.60" r="1.45" fill="#b3002d" />
<circle cx="90.60" cy="579.60" r="1.45" fill="#b3002d" />
<circle cx="87.70" cy="582.10" r="1.45" fill="#b3002d" />
<circle cx="90.60" cy="583.70" r="1.45" fill="#b3002d" />
<circle cx="89.20" cy="586.80" r="1.45" fill="#b3002d" />
<line x1="80.00" y1="577.50" x2="99.00" y2="577.50" stroke="#111" stroke-width="1.3" />
<line x1="119.70" y1="570.70" x2="119.70" y2="586.20" stroke="#3a3a3a" stroke-width="1.0" />
<rect x="110.10" y="575.10" width="19.20" height="7.50" fill="#969abf" />
<line x1="115.05" y1="570.70" x2="124.35" y2="570.70" stroke="#333" stroke-width="1.0" />
<line x1="115.05" y1="586.20" x2="124.35" y2="586.20" stroke="#333" stroke-width="1.0" />
<circle cx="121.10" cy="570.30" r="1.45" fill="#1d3a78" />
<circle cx="115.50" cy="571.20" r="1.45" fill="#1d3a78" />
<circle cx="116.00" cy="572.90" r="1.45" fill="#1d3a78" />
<circle cx="123.80" cy="574.80" r="1.45" fill="#1d3a78" />
<circle cx="117.20" cy="575.50" r="1.45" fill="#1d3a78" />
<circle cx="114.40" cy="577.40" r="1.45" fill="#1d3a78" />
<circle cx="119.40" cy="576.80" r="1.45" fill="#1d3a78" />
<circle cx="122.70" cy="577.90" r="1.45" fill="#1d3a78" />
<circle cx="116.60" cy="579.00" r="1.45" fill="#1d3a78" />
<circle cx="120.50" cy="579.60" r="1.45" fill="#1d3a78" />
<circle cx="112.10" cy="579.60" r="1.45" fill="#1d3a78" />
<circle cx="125.00" cy="579.00" r="1.45" fill="#1d3a78" />
<circle cx="118.30" cy="581.30" r="1.45" fill="#1d3a78" />
<circle cx="121.60" cy="581.80" r="1.45" fill="#1d3a78" />
<circle cx="114.90" cy="582.40" r="1.45" fill="#1d3a78" />
<circle cx="117.20" cy="583.70" r="1.45" fill="#1d3a78" />
<circle cx="122.70" cy="585.20" r="1.45" fill="#1d3a78" />
<circle cx="119.90" cy="585.70" r="1.45" fill="#1d3a78" />
<line x1="110.10" y1="579.30" x2="129.30" y2="579.30" stroke="#111" stroke-width="1.3" />
<line x1="148.70" y1="552.00" x2="148.70" y2="586.20" stroke="#3a3a3a" stroke-width="1.0" />
<rect x="139.20" y="571.00" width="19.00" height="13.40" fill="#d08c7f" />
<line x1="143.95" y1="552.00" x2="153.45" y2="552.00" stroke="#333" stroke-width="1.0" />
<line x1="143.95" y1="586.20" x2="153.45" y2="586.20" stroke="#333" stroke-width="1.0" />
<circle cx="148.60" cy="552.00" r="1.45" fill="#b3002d" />
<circle cx="148.60" cy="561.00" r="1.45" fill="#b3002d" />
<circle cx="148.60" cy="567.70" r="1.45" fill="#b3002d" />
<circle cx="147.30" cy="571.80" r="1.45" fill="#b3002d" />
<circle cx="150.10" cy="571.00" r="1.45" fill="#b3002d" />
<circle cx="148.60" cy="573.50" r="1.45" fill="#b3002d" />
<circle cx="144.50" cy="576.80" r="1.45" fill="#b3002d" />
<circle cx="152.80" cy="576.20" r="1.45" fill="#b3002d" />
<circle cx="146.70" cy="577.90" r="1.45" fill="#b3002d" />
<circle cx="150.10" cy="578.50" r="1.45" fill="#b3002d" />
<circle cx="148.60" cy="580.20" r="1.45" fill="#b3002d" />
<circle cx="145.00" cy="582.40" r="1.45" fill="#b3002d" />
<circle cx="151.70" cy="582.20" r="1.45" fill="#b3002d" />
<circle cx="148.60" cy="583.50" r="1.45" fill="#b3002d" />
<circle cx="144.50" cy="585.70" r="1.45" fill="#b3002d" />
<circle cx="146.70" cy="586.30" r="1.45" fill="#b3002d" />
<circle cx="150.10" cy="585.70" r="1.45" fill="#b3002d" />
<circle cx="152.80" cy="585.20" r="1.45" fill="#b3002d" />
<line x1="139.20" y1="577.70" x2="158.20" y2="577.70" stroke="#111" stroke-width="1.3" />
<text x="233.30" y="466.70" font-size="8.8" fill="#222" text-anchor="middle" textLength="10.50" lengthAdjust="spacingAndGlyphs" stroke="#222" stroke-width="0.08">D7</text>
<text x="291.80" y="466.70" font-size="8.8" fill="#222" text-anchor="middle" textLength="10.50" lengthAdjust="spacingAndGlyphs" stroke="#222" stroke-width="0.08">R7</text>
<text x="213.80" y="481.70" font-size="8.9" fill="#b5133f" text-anchor="start" font-style="italic" textLength="27.60" lengthAdjust="spacingAndGlyphs" stroke="#b5133f" stroke-width="0.15">BRCC3</text>
<text x="242.00" y="478.70" font-size="6.4" fill="#b5133f" text-anchor="start" textLength="11.00" lengthAdjust="spacingAndGlyphs" stroke="#b5133f" stroke-width="0.08">Q7*</text>
<text x="266.50" y="482.10" font-size="8.9" fill="#b5133f" text-anchor="start" font-style="italic" textLength="31.60" lengthAdjust="spacingAndGlyphs" stroke="#b5133f" stroke-width="0.15">BCORL1</text>
<text x="298.70" y="479.40" font-size="6.4" fill="#b5133f" text-anchor="start" textLength="16.80" lengthAdjust="spacingAndGlyphs" stroke="#b5133f" stroke-width="0.08">Q486*</text>
<text x="264.40" y="492.10" font-size="8.9" fill="#b5133f" text-anchor="start" font-style="italic" textLength="35.40" lengthAdjust="spacingAndGlyphs" stroke="#b5133f" stroke-width="0.15">DNMT3A</text>
<text x="300.40" y="489.40" font-size="6.4" fill="#b5133f" text-anchor="start" textLength="18.50" lengthAdjust="spacingAndGlyphs" stroke="#b5133f" stroke-width="0.08">E477Q</text>
<line x1="205.70" y1="498.00" x2="205.70" y2="587.50" stroke="#333" stroke-width="1.5" />
<line x1="202.70" y1="586.80" x2="205.70" y2="586.80" stroke="#333" stroke-width="1.0" />
<text x="199.30" y="589.10" font-size="7.4" fill="#333" text-anchor="end" textLength="8.64" lengthAdjust="spacingAndGlyphs" stroke="#444" stroke-width="0.12">0.0</text>
<line x1="202.70" y1="572.40" x2="205.70" y2="572.40" stroke="#333" stroke-width="1.0" />
<text x="199.30" y="574.70" font-size="7.4" fill="#333" text-anchor="end" textLength="8.64" lengthAdjust="spacingAndGlyphs" stroke="#444" stroke-width="0.12">0.1</text>
<line x1="202.70" y1="558.00" x2="205.70" y2="558.00" stroke="#333" stroke-width="1.0" />
<text x="199.30" y="560.30" font-size="7.4" fill="#333" text-anchor="end" textLength="8.64" lengthAdjust="spacingAndGlyphs" stroke="#444" stroke-width="0.12">0.2</text>
<line x1="202.70" y1="543.60" x2="205.70" y2="543.60" stroke="#333" stroke-width="1.0" />
<text x="199.30" y="545.90" font-size="7.4" fill="#333" text-anchor="end" textLength="8.64" lengthAdjust="spacingAndGlyphs" stroke="#444" stroke-width="0.12">0.3</text>
<line x1="202.70" y1="529.20" x2="205.70" y2="529.20" stroke="#333" stroke-width="1.0" />
<text x="199.30" y="531.50" font-size="7.4" fill="#333" text-anchor="end" textLength="8.64" lengthAdjust="spacingAndGlyphs" stroke="#444" stroke-width="0.12">0.4</text>
<line x1="202.70" y1="514.80" x2="205.70" y2="514.80" stroke="#333" stroke-width="1.0" />
<text x="199.30" y="517.10" font-size="7.4" fill="#333" text-anchor="end" textLength="8.64" lengthAdjust="spacingAndGlyphs" stroke="#444" stroke-width="0.12">0.5</text>
<line x1="202.70" y1="500.40" x2="205.70" y2="500.40" stroke="#333" stroke-width="1.0" />
<text x="199.30" y="502.70" font-size="7.4" fill="#333" text-anchor="end" textLength="8.64" lengthAdjust="spacingAndGlyphs" stroke="#444" stroke-width="0.12">0.6</text>
<text x="185.66" y="541.70" font-size="8.3" fill="#2e2e2e" text-anchor="middle" textLength="78.50" lengthAdjust="spacingAndGlyphs" transform="rotate(-90 185.66 541.70)" stroke="#2e2e2e" stroke-width="0.1">Telomere length [T/S ratio]</text>
<line x1="204.50" y1="586.80" x2="323.50" y2="586.80" stroke="#333" stroke-width="1.4" />
<line x1="220.00" y1="586.80" x2="220.00" y2="589.40" stroke="#333" stroke-width="1.0" />
<line x1="248.80" y1="586.80" x2="248.80" y2="589.40" stroke="#333" stroke-width="1.0" />
<line x1="279.30" y1="586.80" x2="279.30" y2="589.40" stroke="#333" stroke-width="1.0" />
<line x1="308.40" y1="586.80" x2="308.40" y2="589.40" stroke="#333" stroke-width="1.0" />
<text x="220.00" y="598.90" font-size="6.6" fill="#333" text-anchor="middle"  stroke="#333" stroke-width="0.16">No</text>
<text x="220.00" y="606.50" font-size="6.6" fill="#333" text-anchor="middle"  stroke="#333" stroke-width="0.16">Mutation</text>
<text x="248.80" y="598.90" font-size="6.6" fill="#333" text-anchor="middle"  stroke="#333" stroke-width="0.16">Mutation</text>
<text x="279.30" y="598.90" font-size="6.6" fill="#333" text-anchor="middle"  stroke="#333" stroke-width="0.16">No</text>
<text x="279.30" y="606.50" font-size="6.6" fill="#333" text-anchor="middle"  stroke="#333" stroke-width="0.16">Mutation</text>
<text x="308.40" y="598.90" font-size="6.6" fill="#333" text-anchor="middle"  stroke="#333" stroke-width="0.16">Mutation</text>
<line x1="261.4" y1="501.4" x2="261.4" y2="586.8" stroke="#808080" stroke-width="1.1" stroke-dasharray="2 2.3"/>
<line x1="220.00" y1="507.00" x2="249.30" y2="507.00" stroke="#333" stroke-width="1.0" />
<line x1="220.00" y1="506.10" x2="220.00" y2="507.90" stroke="#333" stroke-width="1.0" />
<line x1="249.30" y1="506.10" x2="249.30" y2="507.90" stroke="#333" stroke-width="1.0" />
<text x="234.65" y="504.40" font-size="5.7" fill="#444" text-anchor="middle" textLength="16.90" lengthAdjust="spacingAndGlyphs"  stroke="#444" stroke-width="0.1">0.7101</text>
<line x1="279.30" y1="503.50" x2="308.40" y2="503.50" stroke="#333" stroke-width="1.0" />
<line x1="279.30" y1="502.60" x2="279.30" y2="504.40" stroke="#333" stroke-width="1.0" />
<line x1="308.40" y1="502.60" x2="308.40" y2="504.40" stroke="#333" stroke-width="1.0" />
<text x="293.85" y="500.90" font-size="5.7" fill="#444" text-anchor="middle" textLength="16.90" lengthAdjust="spacingAndGlyphs"  stroke="#444" stroke-width="0.1">0.2201</text>
<line x1="220.00" y1="511.80" x2="220.00" y2="567.00" stroke="#3a3a3a" stroke-width="1.0" />
<rect x="210.50" y="523.20" width="19.00" height="38.70" fill="#969abf" />
<line x1="215.15" y1="511.80" x2="224.85" y2="511.80" stroke="#333" stroke-width="1.0" />
<line x1="215.15" y1="567.00" x2="224.85" y2="567.00" stroke="#333" stroke-width="1.0" />
<circle cx="220.00" cy="511.80" r="1.45" fill="#1d3a78" />
<circle cx="220.00" cy="533.80" r="1.45" fill="#1d3a78" />
<circle cx="219.30" cy="555.00" r="1.45" fill="#1d3a78" />
<circle cx="221.60" cy="556.20" r="1.45" fill="#1d3a78" />
<circle cx="220.00" cy="567.00" r="1.45" fill="#1d3a78" />
<line x1="210.50" y1="555.00" x2="229.50" y2="555.00" stroke="#111" stroke-width="1.3" />
<line x1="248.80" y1="511.80" x2="248.80" y2="568.40" stroke="#3a3a3a" stroke-width="1.0" />
<line x1="244.15" y1="511.80" x2="253.45" y2="511.80" stroke="#333" stroke-width="1.0" />
<line x1="244.15" y1="568.40" x2="253.45" y2="568.40" stroke="#333" stroke-width="1.0" />
<circle cx="248.80" cy="511.80" r="1.45" fill="#b3002d" />
<circle cx="248.80" cy="533.80" r="1.45" fill="#b3002d" />
<circle cx="248.80" cy="568.40" r="1.45" fill="#b3002d" />
<line x1="239.30" y1="533.80" x2="258.30" y2="533.80" stroke="#111" stroke-width="1.3" />
<line x1="279.30" y1="535.40" x2="279.30" y2="585.50" stroke="#3a3a3a" stroke-width="1.0" />
<rect x="269.85" y="549.90" width="18.90" height="25.40" fill="#969abf" />
<line x1="274.55" y1="535.40" x2="284.05" y2="535.40" stroke="#333" stroke-width="1.0" />
<line x1="274.55" y1="585.50" x2="284.05" y2="585.50" stroke="#333" stroke-width="1.0" />
<circle cx="279.30" cy="535.40" r="1.45" fill="#1d3a78" />
<circle cx="279.30" cy="544.60" r="1.45" fill="#1d3a78" />
<circle cx="278.40" cy="547.60" r="1.45" fill="#1d3a78" />
<circle cx="280.20" cy="548.50" r="1.45" fill="#1d3a78" />
<circle cx="279.30" cy="553.80" r="1.45" fill="#1d3a78" />
<circle cx="279.30" cy="558.50" r="1.45" fill="#1d3a78" />
<circle cx="279.30" cy="563.10" r="1.45" fill="#1d3a78" />
<circle cx="279.30" cy="567.00" r="1.45" fill="#1d3a78" />
<circle cx="276.50" cy="569.30" r="1.45" fill="#1d3a78" />
<circle cx="282.10" cy="568.90" r="1.45" fill="#1d3a78" />
<circle cx="279.30" cy="572.30" r="1.45" fill="#1d3a78" />
<circle cx="278.40" cy="574.60" r="1.45" fill="#1d3a78" />
<circle cx="280.70" cy="575.80" r="1.45" fill="#1d3a78" />
<circle cx="279.30" cy="578.10" r="1.45" fill="#1d3a78" />
<circle cx="277.70" cy="584.50" r="1.45" fill="#1d3a78" />
<circle cx="281.20" cy="585.00" r="1.45" fill="#1d3a78" />
<line x1="269.85" y1="567.70" x2="288.75" y2="567.70" stroke="#111" stroke-width="1.3" />
<line x1="308.40" y1="507.70" x2="308.40" y2="585.50" stroke="#3a3a3a" stroke-width="1.0" />
<rect x="298.60" y="547.40" width="19.60" height="27.20" fill="#d08c7f" />
<line x1="303.65" y1="507.70" x2="313.15" y2="507.70" stroke="#333" stroke-width="1.0" />
<line x1="303.65" y1="585.50" x2="313.15" y2="585.50" stroke="#333" stroke-width="1.0" />
<circle cx="308.40" cy="507.70" r="1.45" fill="#b3002d" />
<circle cx="308.40" cy="519.20" r="1.45" fill="#b3002d" />
<circle cx="308.40" cy="533.10" r="1.45" fill="#b3002d" />
<circle cx="308.40" cy="540.00" r="1.45" fill="#b3002d" />
<circle cx="306.50" cy="546.90" r="1.45" fill="#b3002d" />
<circle cx="311.20" cy="548.50" r="1.45" fill="#b3002d" />
<circle cx="308.40" cy="552.20" r="1.45" fill="#b3002d" />
<circle cx="306.10" cy="555.50" r="1.45" fill="#b3002d" />
<circle cx="310.70" cy="556.90" r="1.45" fill="#b3002d" />
<circle cx="308.40" cy="559.60" r="1.45" fill="#b3002d" />
<circle cx="308.40" cy="564.20" r="1.45" fill="#b3002d" />
<circle cx="306.50" cy="568.90" r="1.45" fill="#b3002d" />
<circle cx="310.00" cy="571.20" r="1.45" fill="#b3002d" />
<circle cx="308.40" cy="574.60" r="1.45" fill="#b3002d" />
<circle cx="308.40" cy="578.10" r="1.45" fill="#b3002d" />
<circle cx="306.50" cy="581.50" r="1.45" fill="#b3002d" />
<circle cx="310.00" cy="584.50" r="1.45" fill="#b3002d" />
<circle cx="308.40" cy="586.20" r="1.45" fill="#b3002d" />
<line x1="298.60" y1="557.80" x2="318.20" y2="557.80" stroke="#111" stroke-width="1.3" />
<text x="394.40" y="466.70" font-size="8.8" fill="#222" text-anchor="middle" textLength="15.00" lengthAdjust="spacingAndGlyphs" stroke="#222" stroke-width="0.08">D39</text>
<text x="453.00" y="466.70" font-size="8.8" fill="#222" text-anchor="middle" textLength="14.30" lengthAdjust="spacingAndGlyphs" stroke="#222" stroke-width="0.08">R39</text>
<text x="373.80" y="481.50" font-size="8.9" fill="#b5133f" text-anchor="start" font-style="italic" textLength="18.60" lengthAdjust="spacingAndGlyphs" stroke="#b5133f" stroke-width="0.15">TET2</text>
<text x="393.00" y="478.50" font-size="6.4" fill="#b5133f" text-anchor="start" textLength="21.90" lengthAdjust="spacingAndGlyphs" stroke="#b5133f" stroke-width="0.08">S1668fs</text>
<text x="371.50" y="491.60" font-size="8.9" fill="#b5133f" text-anchor="start" font-style="italic" textLength="28.10" lengthAdjust="spacingAndGlyphs" stroke="#b5133f" stroke-width="0.15">PPM1D</text>
<text x="400.20" y="488.90" font-size="6.4" fill="#b5133f" text-anchor="start" textLength="18.00" lengthAdjust="spacingAndGlyphs" stroke="#b5133f" stroke-width="0.08">R552*</text>
<text x="429.20" y="481.50" font-size="8.9" fill="#b5133f" text-anchor="start" font-style="italic" textLength="28.10" lengthAdjust="spacingAndGlyphs" stroke="#b5133f" stroke-width="0.15">PPM1D</text>
<text x="457.90" y="478.50" font-size="6.4" fill="#b5133f" text-anchor="start" textLength="19.10" lengthAdjust="spacingAndGlyphs" stroke="#b5133f" stroke-width="0.08">E476fs</text>
<line x1="365.00" y1="498.00" x2="365.00" y2="587.70" stroke="#333" stroke-width="1.5" />
<line x1="362.00" y1="587.00" x2="365.00" y2="587.00" stroke="#333" stroke-width="1.0" />
<text x="358.60" y="589.30" font-size="7.4" fill="#333" text-anchor="end" textLength="8.64" lengthAdjust="spacingAndGlyphs" stroke="#444" stroke-width="0.12">0.0</text>
<line x1="362.00" y1="576.21" x2="365.00" y2="576.21" stroke="#333" stroke-width="1.0" />
<text x="358.60" y="578.51" font-size="7.4" fill="#333" text-anchor="end" textLength="8.64" lengthAdjust="spacingAndGlyphs" stroke="#444" stroke-width="0.12">0.1</text>
<line x1="362.00" y1="565.42" x2="365.00" y2="565.42" stroke="#333" stroke-width="1.0" />
<text x="358.60" y="567.72" font-size="7.4" fill="#333" text-anchor="end" textLength="8.64" lengthAdjust="spacingAndGlyphs" stroke="#444" stroke-width="0.12">0.2</text>
<line x1="362.00" y1="554.63" x2="365.00" y2="554.63" stroke="#333" stroke-width="1.0" />
<text x="358.60" y="556.93" font-size="7.4" fill="#333" text-anchor="end" textLength="8.64" lengthAdjust="spacingAndGlyphs" stroke="#444" stroke-width="0.12">0.3</text>
<line x1="362.00" y1="543.84" x2="365.00" y2="543.84" stroke="#333" stroke-width="1.0" />
<text x="358.60" y="546.14" font-size="7.4" fill="#333" text-anchor="end" textLength="8.64" lengthAdjust="spacingAndGlyphs" stroke="#444" stroke-width="0.12">0.4</text>
<line x1="362.00" y1="533.05" x2="365.00" y2="533.05" stroke="#333" stroke-width="1.0" />
<text x="358.60" y="535.35" font-size="7.4" fill="#333" text-anchor="end" textLength="8.64" lengthAdjust="spacingAndGlyphs" stroke="#444" stroke-width="0.12">0.5</text>
<line x1="362.00" y1="522.26" x2="365.00" y2="522.26" stroke="#333" stroke-width="1.0" />
<text x="358.60" y="524.56" font-size="7.4" fill="#333" text-anchor="end" textLength="8.64" lengthAdjust="spacingAndGlyphs" stroke="#444" stroke-width="0.12">0.6</text>
<line x1="362.00" y1="511.47" x2="365.00" y2="511.47" stroke="#333" stroke-width="1.0" />
<text x="358.60" y="513.77" font-size="7.4" fill="#333" text-anchor="end" textLength="8.64" lengthAdjust="spacingAndGlyphs" stroke="#444" stroke-width="0.12">0.7</text>
<line x1="362.00" y1="500.68" x2="365.00" y2="500.68" stroke="#333" stroke-width="1.0" />
<text x="358.60" y="502.98" font-size="7.4" fill="#333" text-anchor="end" textLength="8.64" lengthAdjust="spacingAndGlyphs" stroke="#444" stroke-width="0.12">0.8</text>
<text x="345.56" y="541.70" font-size="8.3" fill="#2e2e2e" text-anchor="middle" textLength="78.50" lengthAdjust="spacingAndGlyphs" transform="rotate(-90 345.56 541.70)" stroke="#2e2e2e" stroke-width="0.1">Telomere length [T/S ratio]</text>
<line x1="363.80" y1="587.00" x2="482.20" y2="587.00" stroke="#333" stroke-width="1.4" />
<line x1="379.80" y1="587.00" x2="379.80" y2="589.60" stroke="#333" stroke-width="1.0" />
<line x1="408.60" y1="587.00" x2="408.60" y2="589.60" stroke="#333" stroke-width="1.0" />
<line x1="439.00" y1="587.00" x2="439.00" y2="589.60" stroke="#333" stroke-width="1.0" />
<line x1="467.80" y1="587.00" x2="467.80" y2="589.60" stroke="#333" stroke-width="1.0" />
<text x="379.80" y="598.90" font-size="6.6" fill="#333" text-anchor="middle"  stroke="#333" stroke-width="0.16">No</text>
<text x="379.80" y="606.50" font-size="6.6" fill="#333" text-anchor="middle"  stroke="#333" stroke-width="0.16">Mutation</text>
<text x="408.60" y="598.90" font-size="6.6" fill="#333" text-anchor="middle"  stroke="#333" stroke-width="0.16">Mutation</text>
<text x="439.00" y="598.90" font-size="6.6" fill="#333" text-anchor="middle"  stroke="#333" stroke-width="0.16">No</text>
<text x="439.00" y="606.50" font-size="6.6" fill="#333" text-anchor="middle"  stroke="#333" stroke-width="0.16">Mutation</text>
<text x="467.80" y="598.90" font-size="6.6" fill="#333" text-anchor="middle"  stroke="#333" stroke-width="0.16">Mutation</text>
<line x1="423.5" y1="501.4" x2="423.5" y2="587" stroke="#808080" stroke-width="1.1" stroke-dasharray="2 2.3"/>
<line x1="379.80" y1="509.70" x2="408.60" y2="509.70" stroke="#333" stroke-width="1.0" />
<line x1="379.80" y1="508.80" x2="379.80" y2="510.60" stroke="#333" stroke-width="1.0" />
<line x1="408.60" y1="508.80" x2="408.60" y2="510.60" stroke="#333" stroke-width="1.0" />
<text x="394.20" y="507.00" font-size="5.7" fill="#444" text-anchor="middle" textLength="16.90" lengthAdjust="spacingAndGlyphs"  stroke="#444" stroke-width="0.1">0.8631</text>
<line x1="438.60" y1="527.10" x2="468.10" y2="527.10" stroke="#333" stroke-width="1.0" />
<line x1="438.60" y1="526.20" x2="438.60" y2="528.00" stroke="#333" stroke-width="1.0" />
<line x1="468.10" y1="526.20" x2="468.10" y2="528.00" stroke="#333" stroke-width="1.0" />
<text x="453.35" y="524.50" font-size="5.7" fill="#444" text-anchor="middle" textLength="16.90" lengthAdjust="spacingAndGlyphs"  stroke="#444" stroke-width="0.1">0.0339</text>
<line x1="379.80" y1="524.00" x2="379.80" y2="567.90" stroke="#3a3a3a" stroke-width="1.0" />
<rect x="370.20" y="543.10" width="19.20" height="8.60" fill="#969abf" />
<line x1="375.10" y1="524.00" x2="384.50" y2="524.00" stroke="#333" stroke-width="1.0" />
<line x1="375.10" y1="567.90" x2="384.50" y2="567.90" stroke="#333" stroke-width="1.0" />
<line x1="370.20" y1="548.30" x2="389.40" y2="548.30" stroke="#111" stroke-width="1.3" />
<circle cx="379.80" cy="524.00" r="1.45" fill="#1d3a78" />
<circle cx="381.30" cy="526.00" r="1.45" fill="#1d3a78" />
<circle cx="379.30" cy="527.50" r="1.45" fill="#1d3a78" />
<circle cx="379.80" cy="536.52" r="1.45" fill="#1d3a78" />
<circle cx="381.30" cy="538.52" r="1.45" fill="#1d3a78" />
<circle cx="378.80" cy="538.86" r="1.45" fill="#1d3a78" />
<circle cx="376.30" cy="539.43" r="1.45" fill="#1d3a78" />
<circle cx="383.80" cy="539.46" r="1.45" fill="#1d3a78" />
<circle cx="373.80" cy="539.65" r="1.45" fill="#1d3a78" />
<circle cx="386.30" cy="540.09" r="1.45" fill="#1d3a78" />
<circle cx="371.30" cy="540.14" r="1.45" fill="#1d3a78" />
<circle cx="388.80" cy="540.63" r="1.45" fill="#1d3a78" />
<circle cx="379.80" cy="542.85" r="1.45" fill="#1d3a78" />
<circle cx="382.30" cy="542.90" r="1.45" fill="#1d3a78" />
<circle cx="377.80" cy="544.57" r="1.45" fill="#1d3a78" />
<circle cx="380.30" cy="545.63" r="1.45" fill="#1d3a78" />
<circle cx="382.80" cy="545.98" r="1.45" fill="#1d3a78" />
<circle cx="375.80" cy="545.99" r="1.45" fill="#1d3a78" />
<circle cx="385.30" cy="546.07" r="1.45" fill="#1d3a78" />
<circle cx="373.30" cy="546.72" r="1.45" fill="#1d3a78" />
<circle cx="378.30" cy="547.16" r="1.45" fill="#1d3a78" />
<circle cx="387.80" cy="547.22" r="1.45" fill="#1d3a78" />
<circle cx="370.80" cy="547.39" r="1.45" fill="#1d3a78" />
<circle cx="370.80" cy="547.41" r="1.45" fill="#1d3a78" />
<circle cx="370.80" cy="547.49" r="1.45" fill="#1d3a78" />
<circle cx="370.80" cy="547.81" r="1.45" fill="#1d3a78" />
<circle cx="380.80" cy="548.40" r="1.45" fill="#1d3a78" />
<circle cx="383.30" cy="548.45" r="1.45" fill="#1d3a78" />
<circle cx="376.30" cy="548.72" r="1.45" fill="#1d3a78" />
<circle cx="385.80" cy="549.12" r="1.45" fill="#1d3a78" />
<circle cx="373.80" cy="549.15" r="1.45" fill="#1d3a78" />
<circle cx="388.80" cy="549.52" r="1.45" fill="#1d3a78" />
<circle cx="378.80" cy="550.13" r="1.45" fill="#1d3a78" />
<circle cx="370.80" cy="550.18" r="1.45" fill="#1d3a78" />
<circle cx="381.80" cy="550.79" r="1.45" fill="#1d3a78" />
<circle cx="370.80" cy="550.81" r="1.45" fill="#1d3a78" />
<circle cx="376.80" cy="551.97" r="1.45" fill="#1d3a78" />
<circle cx="384.30" cy="552.16" r="1.45" fill="#1d3a78" />
<circle cx="374.30" cy="552.22" r="1.45" fill="#1d3a78" />
<circle cx="386.80" cy="552.25" r="1.45" fill="#1d3a78" />
<circle cx="379.80" cy="553.11" r="1.45" fill="#1d3a78" />
<circle cx="382.30" cy="553.99" r="1.45" fill="#1d3a78" />
<circle cx="372.30" cy="554.07" r="1.45" fill="#1d3a78" />
<circle cx="377.80" cy="554.71" r="1.45" fill="#1d3a78" />
<circle cx="375.30" cy="554.72" r="1.45" fill="#1d3a78" />
<circle cx="379.80" cy="557.46" r="1.45" fill="#1d3a78" />
<circle cx="379.80" cy="562.50" r="1.45" fill="#1d3a78" />
<circle cx="381.80" cy="563.99" r="1.45" fill="#1d3a78" />
<circle cx="379.30" cy="565.20" r="1.45" fill="#1d3a78" />
<circle cx="379.80" cy="567.90" r="1.45" fill="#1d3a78" />
<line x1="408.60" y1="514.80" x2="408.60" y2="563.30" stroke="#3a3a3a" stroke-width="1.0" />
<rect x="399.20" y="543.10" width="18.80" height="10.40" fill="#d08c7f" />
<line x1="403.95" y1="514.80" x2="413.25" y2="514.80" stroke="#333" stroke-width="1.0" />
<line x1="403.95" y1="563.30" x2="413.25" y2="563.30" stroke="#333" stroke-width="1.0" />
<line x1="399.20" y1="548.30" x2="418.00" y2="548.30" stroke="#111" stroke-width="1.3" />
<circle cx="408.60" cy="514.80" r="1.45" fill="#b3002d" />
<circle cx="408.60" cy="519.50" r="1.45" fill="#b3002d" />
<circle cx="411.10" cy="520.50" r="1.45" fill="#b3002d" />
<circle cx="408.60" cy="526.00" r="1.45" fill="#b3002d" />
<circle cx="408.60" cy="529.50" r="1.45" fill="#b3002d" />
<circle cx="408.60" cy="540.35" r="1.45" fill="#b3002d" />
<circle cx="411.10" cy="541.20" r="1.45" fill="#b3002d" />
<circle cx="406.10" cy="541.26" r="1.45" fill="#b3002d" />
<circle cx="413.60" cy="542.11" r="1.45" fill="#b3002d" />
<circle cx="403.60" cy="542.62" r="1.45" fill="#b3002d" />
<circle cx="408.60" cy="542.84" r="1.45" fill="#b3002d" />
<circle cx="416.10" cy="543.44" r="1.45" fill="#b3002d" />
<circle cx="411.10" cy="544.08" r="1.45" fill="#b3002d" />
<circle cx="406.10" cy="544.11" r="1.45" fill="#b3002d" />
<circle cx="413.60" cy="544.76" r="1.45" fill="#b3002d" />
<circle cx="408.60" cy="545.52" r="1.45" fill="#b3002d" />
<circle cx="404.10" cy="545.66" r="1.45" fill="#b3002d" />
<circle cx="401.60" cy="546.01" r="1.45" fill="#b3002d" />
<circle cx="410.60" cy="547.43" r="1.45" fill="#b3002d" />
<circle cx="407.10" cy="547.52" r="1.45" fill="#b3002d" />
<circle cx="404.60" cy="548.32" r="1.45" fill="#b3002d" />
<circle cx="412.60" cy="549.19" r="1.45" fill="#b3002d" />
<circle cx="415.10" cy="549.29" r="1.45" fill="#b3002d" />
<circle cx="408.60" cy="549.54" r="1.45" fill="#b3002d" />
<circle cx="402.10" cy="549.57" r="1.45" fill="#b3002d" />
<circle cx="417.60" cy="549.58" r="1.45" fill="#b3002d" />
<circle cx="399.60" cy="549.76" r="1.45" fill="#b3002d" />
<circle cx="399.60" cy="550.01" r="1.45" fill="#b3002d" />
<circle cx="406.10" cy="550.28" r="1.45" fill="#b3002d" />
<circle cx="410.10" cy="551.58" r="1.45" fill="#b3002d" />
<circle cx="412.60" cy="551.86" r="1.45" fill="#b3002d" />
<circle cx="404.10" cy="552.18" r="1.45" fill="#b3002d" />
<circle cx="407.60" cy="552.25" r="1.45" fill="#b3002d" />
<circle cx="415.10" cy="552.44" r="1.45" fill="#b3002d" />
<circle cx="401.60" cy="552.67" r="1.45" fill="#b3002d" />
<circle cx="417.60" cy="553.10" r="1.45" fill="#b3002d" />
<circle cx="399.60" cy="553.19" r="1.45" fill="#b3002d" />
<circle cx="399.60" cy="553.57" r="1.45" fill="#b3002d" />
<circle cx="399.60" cy="553.67" r="1.45" fill="#b3002d" />
<circle cx="399.60" cy="553.70" r="1.45" fill="#b3002d" />
<circle cx="399.60" cy="553.74" r="1.45" fill="#b3002d" />
<circle cx="409.10" cy="554.42" r="1.45" fill="#b3002d" />
<circle cx="406.60" cy="554.97" r="1.45" fill="#b3002d" />
<circle cx="411.60" cy="555.10" r="1.45" fill="#b3002d" />
<circle cx="404.10" cy="555.14" r="1.45" fill="#b3002d" />
<circle cx="414.10" cy="555.29" r="1.45" fill="#b3002d" />
<circle cx="401.60" cy="555.67" r="1.45" fill="#b3002d" />
<circle cx="408.60" cy="557.14" r="1.45" fill="#b3002d" />
<circle cx="410.60" cy="558.88" r="1.45" fill="#b3002d" />
<circle cx="408.10" cy="559.79" r="1.45" fill="#b3002d" />
<circle cx="405.60" cy="560.50" r="1.45" fill="#b3002d" />
<circle cx="412.60" cy="560.72" r="1.45" fill="#b3002d" />
<circle cx="403.10" cy="560.73" r="1.45" fill="#b3002d" />
<circle cx="408.60" cy="563.30" r="1.45" fill="#b3002d" />
<line x1="439.00" y1="531.90" x2="439.00" y2="577.60" stroke="#3a3a3a" stroke-width="1.0" />
<rect x="429.40" y="545.30" width="19.20" height="23.30" fill="#969abf" />
<line x1="434.65" y1="531.90" x2="443.35" y2="531.90" stroke="#333" stroke-width="1.0" />
<line x1="434.65" y1="577.60" x2="443.35" y2="577.60" stroke="#333" stroke-width="1.0" />
<circle cx="439.00" cy="531.90" r="1.45" fill="#1d3a78" />
<circle cx="439.00" cy="545.00" r="1.45" fill="#1d3a78" />
<circle cx="439.00" cy="560.20" r="1.45" fill="#1d3a78" />
<circle cx="439.00" cy="565.50" r="1.45" fill="#1d3a78" />
<circle cx="437.70" cy="568.60" r="1.45" fill="#1d3a78" />
<circle cx="440.50" cy="568.90" r="1.45" fill="#1d3a78" />
<circle cx="439.00" cy="577.60" r="1.45" fill="#1d3a78" />
<line x1="429.40" y1="565.50" x2="448.60" y2="565.50" stroke="#111" stroke-width="1.3" />
<line x1="467.80" y1="574.00" x2="467.80" y2="581.00" stroke="#3a3a3a" stroke-width="1.0" />
<rect x="458.30" y="575.00" width="19.00" height="5.00" fill="#d08c7f" />
<line x1="463.70" y1="574.00" x2="471.90" y2="574.00" stroke="#333" stroke-width="1.0" />
<line x1="463.70" y1="581.00" x2="471.90" y2="581.00" stroke="#333" stroke-width="1.0" />
<circle cx="467.80" cy="574.00" r="1.45" fill="#b3002d" />
<circle cx="468.80" cy="576.40" r="1.45" fill="#b3002d" />
<circle cx="469.50" cy="578.50" r="1.45" fill="#b3002d" />
<circle cx="466.70" cy="580.70" r="1.45" fill="#b3002d" />
<line x1="458.30" y1="577.40" x2="477.30" y2="577.40" stroke="#111" stroke-width="1.3" />
<rect x="0" y="0" width="1" height="615" fill="#000"/>
<rect x="0" y="0" width="520" height="1" fill="#000"/>
<rect x="518.5" y="0" width="1.5" height="615" fill="#000"/>
<rect x="0" y="613.5" width="520" height="1.5" fill="#000"/>
</svg>
</body></html>
